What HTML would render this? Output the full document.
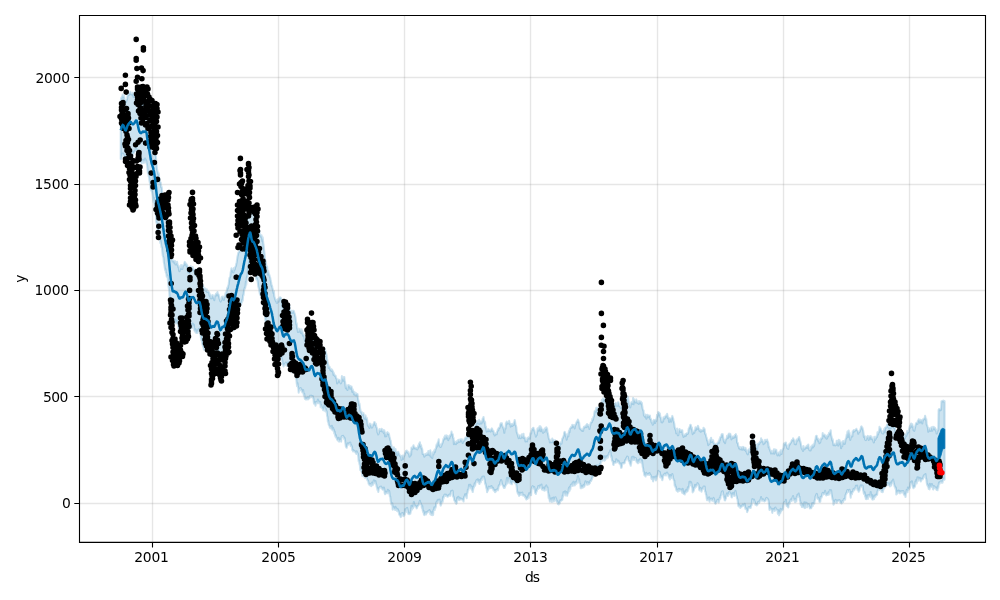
<!DOCTYPE html>
<html lang="en"><head><meta charset="utf-8"><title>Forecast plot</title>
<style>html,body{margin:0;padding:0;background:#fff}body{width:1000px;height:600px;overflow:hidden}svg{display:block}</style>
</head><body>
<svg width="1000" height="600" viewBox="0 0 1000 600">
<rect width="1000" height="600" fill="#fff"/>
<defs><clipPath id="ax"><rect x="79.5" y="15.25" width="905.75" height="527.0"/></clipPath></defs>
<g clip-path="url(#ax)">
<path d="M120.7 102.4L121.1 98L121.5 98.6L121.9 96.6L122.3 97.5L122.7 94.5L123.1 96.8L123.5 97L123.9 95.5L124.3 97.7L124.7 100.4L125.1 101.2L125.5 100.4L125.9 102.3L126.3 100.8L126.7 100.2L127.1 98.7L127.5 95.9L127.9 95.1L128.3 94.5L128.7 95.2L129.1 93.5L129.5 93.5L129.9 93.5L130.3 91.7L130.7 94.2L131.1 94.3L131.5 94L131.9 94.4L132.3 94.8L132.7 92.9L133.1 94.7L133.5 96.9L133.9 93.4L134.3 94.7L134.7 93.4L135.1 93.4L135.5 91.8L135.9 93.6L136.3 92.9L136.7 90.9L137.1 91.9L137.5 94.6L137.9 96.4L138.3 99.2L138.7 99.9L139.1 103.2L139.5 104.2L139.9 104.9L140.3 106.3L140.7 102.7L141.1 106.4L141.5 103.1L141.9 105.1L142.3 103.2L142.7 103.4L143.1 103.7L143.5 100.8L143.9 104.1L144.3 101.3L144.7 105.8L145.1 102.9L145.5 101.9L145.9 103.3L146.3 101.4L146.7 105.7L147.1 109.9L147.5 111.7L147.9 116.3L148.3 114.3L148.7 120.5L149.1 121.1L149.5 123.3L149.9 124.9L150.3 125.9L150.7 128.4L151.1 130L151.5 133L151.9 133.2L152.3 134.8L152.7 136.8L153.1 141.3L153.5 140.1L153.9 141.8L154.3 143.8L154.7 146.4L155.1 151.6L155.5 153L155.9 156.4L156.3 161.3L156.7 165.8L157.1 169.8L157.5 171.2L157.9 172.5L158.3 174.6L158.7 173.2L159.1 177.6L159.5 178.9L159.9 181.1L160.3 182.4L160.7 182.5L161.1 187.2L161.5 186.5L161.9 188.5L162.3 193.9L162.7 196.7L163.1 197L163.5 201.8L163.9 205.5L164.3 207L164.7 207.9L165.1 208.9L165.5 212.8L165.9 215.5L166.3 215.4L166.7 219.2L167.1 220.7L167.5 221L167.9 224.6L168.3 224.8L168.7 229.5L169.1 231.7L169.5 237.3L169.9 243.2L170.3 245.9L170.7 248.8L171.1 254.6L171.5 257.5L171.9 256.4L172.3 259.7L172.7 261.5L173.1 260.8L173.5 261.2L173.9 260.7L174.3 262.9L174.7 261.3L175.1 261.1L175.5 264.5L175.9 263.8L176.3 262.4L176.7 264.1L177.1 261.8L177.5 265.2L177.9 265.1L178.3 267.2L178.7 266.1L179.1 270.3L179.5 271.2L179.9 268.9L180.3 268L180.7 268.6L181.1 265.1L181.5 268.9L181.9 268.1L182.3 269L182.7 266.2L183.1 265.2L183.5 265.4L183.9 265.3L184.3 263.4L184.7 261.9L185.1 262.3L185.5 264.4L185.9 263.5L186.3 264L186.7 266.3L187.1 265L187.5 266.4L187.9 269.3L188.3 272.3L188.7 272.2L189.1 270.2L189.5 272.8L189.9 272.1L190.3 269.3L190.7 266.3L191.1 271.2L191.5 268.8L191.9 270.2L192.3 269.8L192.7 267.1L193.1 269.2L193.5 269.2L193.9 269.5L194.3 271.8L194.7 271.2L195.1 273.2L195.5 274.6L195.9 269.4L196.3 275.1L196.7 275.6L197.1 271.7L197.5 274.1L197.9 272.2L198.3 274.1L198.7 272.2L199.1 275L199.5 273.6L199.9 272L200.3 274.8L200.7 276.7L201.1 279.2L201.5 281.1L201.9 284.9L202.3 285.6L202.7 287.6L203.1 285.5L203.5 289.6L203.9 289.9L204.3 288.5L204.7 290.1L205.1 288.5L205.5 290.8L205.9 290.9L206.3 290.8L206.7 289.2L207.1 292.2L207.5 291.7L207.9 291.6L208.3 291.4L208.7 292.3L209.1 292.5L209.5 295L209.9 296L210.3 294.5L210.7 298.3L211.1 298L211.5 298.3L211.9 295.7L212.3 296.6L212.7 295L213.1 296.2L213.5 298.5L213.9 296.5L214.3 300.1L214.7 296.5L215.1 295.4L215.5 295.7L215.9 293.9L216.3 294.5L216.7 293L217.1 295.5L217.5 292.1L217.9 294.2L218.3 294.1L218.7 294.9L219.1 296.7L219.5 298.7L219.9 299.4L220.3 300.9L220.7 301.6L221.1 300.1L221.5 300.1L221.9 296.8L222.3 298.1L222.7 296.5L223.1 297.5L223.5 298.4L223.9 300L224.3 296.6L224.7 297.2L225.1 296.4L225.5 293.1L225.9 295.5L226.3 292L226.7 291.1L227.1 288.6L227.5 287.3L227.9 288.5L228.3 285.5L228.7 284.6L229.1 280.4L229.5 277.9L229.9 277.1L230.3 276.6L230.7 272.3L231.1 270.9L231.5 268.2L231.9 270.2L232.3 270L232.7 270.3L233.1 272.4L233.5 272.1L233.9 268.1L234.3 270L234.7 269.7L235.1 267.5L235.5 266.6L235.9 266L236.3 263.7L236.7 262.2L237.1 259.4L237.5 256.6L237.9 255.1L238.3 252.9L238.7 252.3L239.1 252.2L239.5 250.5L239.9 248.2L240.3 244.7L240.7 244.3L241.1 245.1L241.5 243.3L241.9 243.5L242.3 240.6L242.7 239.9L243.1 241.2L243.5 235.9L243.9 234L244.3 232.3L244.7 231.8L245.1 230.6L245.5 229.2L245.9 225.7L246.3 221.4L246.7 221.3L247.1 216.3L247.5 216.4L247.9 211.6L248.3 209L248.7 207.3L249.1 205.3L249.5 204.8L249.9 202.2L250.3 203.4L250.7 206.4L251.1 206.2L251.5 209.1L251.9 211.7L252.3 212.3L252.7 212.8L253.1 213.2L253.5 213.1L253.9 214.6L254.3 214.3L254.7 213.3L255.1 217L255.5 217.7L255.9 217.3L256.3 221.1L256.7 219.6L257.1 224.2L257.5 224.2L257.9 229.5L258.3 228.7L258.7 229.7L259.1 232.2L259.5 230.9L259.9 235.6L260.3 235.2L260.7 235.1L261.1 236.9L261.5 235.2L261.9 237.5L262.3 241.1L262.7 237.4L263.1 241.3L263.5 245L263.9 247.5L264.3 251.4L264.7 255.5L265.1 259.6L265.5 261.8L265.9 261.3L266.3 266.4L266.7 266.2L267.1 266.6L267.5 271.4L267.9 274.6L268.3 270.9L268.7 273.5L269.1 274.4L269.5 275.6L269.9 276.9L270.3 278.1L270.7 280.8L271.1 282.2L271.5 285.6L271.9 285.4L272.3 287.3L272.7 288.9L273.1 290.8L273.5 293.1L273.9 291L274.3 296.4L274.7 297.4L275.1 299.2L275.5 299.8L275.9 301.2L276.3 300.6L276.7 302.7L277.1 302.9L277.5 299.3L277.9 301.7L278.3 299.6L278.7 301.7L279.1 299.5L279.5 297.6L279.9 297.9L280.3 297.4L280.7 297.8L281.1 297.9L281.5 300.2L281.9 301.8L282.3 303.8L282.7 307.3L283.1 307L283.5 307.6L283.9 306.8L284.3 306.3L284.7 305.4L285.1 303.4L285.5 306.7L285.9 303.8L286.3 305.6L286.7 304.5L287.1 305.4L287.5 303.7L287.9 308.4L288.3 308L288.7 307.3L289.1 307.4L289.5 305.8L289.9 311.4L290.3 312.2L290.7 310.6L291.1 310.8L291.5 312L291.9 313L292.3 310.9L292.7 312.8L293.1 311.6L293.5 310.8L293.9 311.2L294.3 312.6L294.7 313.8L295.1 315.5L295.5 317.2L295.9 320.5L296.3 324.5L296.7 323.3L297.1 328.6L297.5 327.8L297.9 332L298.3 331.5L298.7 331.4L299.1 329.4L299.5 328.9L299.9 331.7L300.3 330.1L300.7 330.6L301.1 333L301.5 329.4L301.9 333.3L302.3 331.1L302.7 333.9L303.1 335.8L303.5 335.1L303.9 334.5L304.3 336.9L304.7 339.7L305.1 338.6L305.5 341.2L305.9 340.9L306.3 340.9L306.7 339.3L307.1 340.9L307.5 338.9L307.9 341.7L308.3 340.1L308.7 340.2L309.1 342.2L309.5 340.9L309.9 339.5L310.3 337.4L310.7 336.5L311.1 337.3L311.5 335.2L311.9 334L312.3 338.1L312.7 338.6L313.1 339L313.5 344.4L313.9 342.6L314.3 345.3L314.7 346.2L315.1 345.7L315.5 344.4L315.9 344.1L316.3 347L316.7 343.5L317.1 344.4L317.5 344L317.9 345.5L318.3 345L318.7 342.7L319.1 346.4L319.5 345.2L319.9 346.1L320.3 344.9L320.7 344.9L321.1 349.9L321.5 346.4L321.9 349.4L322.3 350.4L322.7 352.4L323.1 351.9L323.5 352.3L323.9 352.3L324.3 351.6L324.7 348.6L325.1 350.7L325.5 350.9L325.9 352.2L326.3 354.2L326.7 355.3L327.1 358.7L327.5 361.5L327.9 363.8L328.3 364.6L328.7 368L329.1 366.5L329.5 366.7L329.9 368.4L330.3 370.1L330.7 368.7L331.1 370.5L331.5 370.9L331.9 369.6L332.3 370.1L332.7 371.7L333.1 371.6L333.5 375L333.9 373.1L334.3 375.1L334.7 375.8L335.1 376.1L335.5 375.5L335.9 377.4L336.3 378.6L336.7 378.5L337.1 383.5L337.5 381.1L337.9 382.5L338.3 380.5L338.7 379.7L339.1 380.6L339.5 380.2L339.9 381.5L340.3 382.6L340.7 383.4L341.1 382.8L341.5 381.7L341.9 376.1L342.3 378.8L342.7 379.8L343.1 377L343.5 380.8L343.9 378.8L344.3 377L344.7 381L345.1 382L345.5 385.9L345.9 388.2L346.3 387.5L346.7 385.6L347.1 389.3L347.5 389.9L347.9 387.1L348.3 385.1L348.7 385.7L349.1 386.9L349.5 385.5L349.9 386.2L350.3 388.8L350.7 386.4L351.1 386.8L351.5 386.5L351.9 388.4L352.3 392L352.7 389.4L353.1 390.8L353.5 391.6L353.9 394.1L354.3 394.6L354.7 392.2L355.1 394L355.5 394.6L355.9 395.5L356.3 393.4L356.7 394.4L357.1 394.6L357.5 394L357.9 397.7L358.3 400.4L358.7 401.1L359.1 405.1L359.5 403.6L359.9 406.9L360.3 409.8L360.7 411.4L361.1 412.4L361.5 411.6L361.9 413.3L362.3 414.7L362.7 414.8L363.1 414.1L363.5 413.2L363.9 415L364.3 418.6L364.7 417.6L365.1 416.9L365.5 415.4L365.9 419.3L366.3 419L366.7 417.7L367.1 419.3L367.5 423.2L367.9 425.6L368.3 425.5L368.7 426.1L369.1 427.2L369.5 427.9L369.9 423.6L370.3 425.2L370.7 424.3L371.1 425.9L371.5 426.5L371.9 427.6L372.3 427.1L372.7 426L373.1 424.7L373.5 424.1L373.9 423.2L374.3 422.1L374.7 422.3L375.1 424.9L375.5 424.9L375.9 423.8L376.3 427L376.7 427.4L377.1 429.3L377.5 432.7L377.9 432.6L378.3 434.4L378.7 433.6L379.1 431.8L379.5 429.1L379.9 430.9L380.3 430L380.7 431L381.1 431L381.5 428.9L381.9 429.2L382.3 431.5L382.7 431.2L383.1 429.9L383.5 431.6L383.9 433.3L384.3 430.2L384.7 432.6L385.1 436.4L385.5 432.9L385.9 434.3L386.3 436.2L386.7 434L387.1 433.3L387.5 432.2L387.9 434L388.3 434L388.7 433.3L389.1 434.8L389.5 437.2L389.9 438L390.3 440.3L390.7 440.7L391.1 444.1L391.5 445.4L391.9 449.2L392.3 448L392.7 449L393.1 447.6L393.5 451.4L393.9 447.2L394.3 449.1L394.7 451.7L395.1 451L395.5 449L395.9 451.7L396.3 452.1L396.7 451.7L397.1 455.4L397.5 452.5L397.9 451.9L398.3 451.8L398.7 453.6L399.1 453.7L399.5 455.3L399.9 455.3L400.3 456.4L400.7 456.6L401.1 455.9L401.5 460L401.9 458.8L402.3 456.4L402.7 455.5L403.1 458.9L403.5 457.3L403.9 456.1L404.3 455.8L404.7 454.8L405.1 453.1L405.5 452.5L405.9 451.2L406.3 451.8L406.7 450.6L407.1 451.3L407.5 452.8L407.9 451.8L408.3 453.1L408.7 453.8L409.1 454L409.5 456.7L409.9 454.8L410.3 455.8L410.7 451.7L411.1 454.6L411.5 447.6L411.9 448L412.3 448.3L412.7 448.9L413.1 446.5L413.5 445.3L413.9 447.5L414.3 447.2L414.7 447.5L415.1 448.7L415.5 448.2L415.9 447.9L416.3 448.5L416.7 448.4L417.1 449.5L417.5 449.1L417.9 447.3L418.3 445.4L418.7 447.4L419.1 443.6L419.5 444.8L419.9 442.2L420.3 445.6L420.7 445.9L421.1 445.2L421.5 448.6L421.9 448L422.3 449.6L422.7 454.1L423.1 454.2L423.5 453.9L423.9 454.1L424.3 456.7L424.7 455.6L425.1 454.9L425.5 455.4L425.9 453.7L426.3 454.7L426.7 454.9L427.1 453.1L427.5 453.7L427.9 454.7L428.3 451L428.7 454.6L429.1 454.2L429.5 455.2L429.9 451.8L430.3 450.3L430.7 456.6L431.1 454.2L431.5 456.5L431.9 456.8L432.3 458.1L432.7 452.4L433.1 454.6L433.5 454.3L433.9 452.3L434.3 450.4L434.7 452.3L435.1 451.3L435.5 448.7L435.9 448.9L436.3 446.2L436.7 444.3L437.1 446.6L437.5 443.5L437.9 441.9L438.3 441.7L438.7 439.3L439.1 445.4L439.5 443.7L439.9 445.7L440.3 447L440.7 446.8L441.1 446.5L441.5 445L441.9 444L442.3 443.2L442.7 442.3L443.1 440.5L443.5 438.8L443.9 439.6L444.3 437L444.7 438.3L445.1 435.6L445.5 437.7L445.9 438.7L446.3 436.8L446.7 435.4L447.1 437.9L447.5 437.7L447.9 436.2L448.3 440.2L448.7 437.8L449.1 437L449.5 438.2L449.9 435.3L450.3 436.3L450.7 434.7L451.1 434.3L451.5 431.6L451.9 433.7L452.3 434.3L452.7 434.1L453.1 438L453.5 437.9L453.9 444.1L454.3 440.9L454.7 441.7L455.1 443.7L455.5 442.6L455.9 444.2L456.3 441.9L456.7 442.4L457.1 441L457.5 442.9L457.9 442.1L458.3 439.8L458.7 441.4L459.1 441.8L459.5 440.9L459.9 441.7L460.3 439.3L460.7 439.9L461.1 439.4L461.5 441.2L461.9 439.3L462.3 440.9L462.7 443L463.1 440.8L463.5 441.3L463.9 440.8L464.3 440.5L464.7 438.6L465.1 438.7L465.5 437.5L465.9 437.4L466.3 438.6L466.7 437L467.1 437.3L467.5 432.7L467.9 431.6L468.3 431.2L468.7 431.4L469.1 428.9L469.5 428L469.9 426.9L470.3 424.3L470.7 428.5L471.1 430.5L471.5 430.7L471.9 433.5L472.3 431.6L472.7 433L473.1 433.3L473.5 430.7L473.9 428.9L474.3 426.3L474.7 427.7L475.1 425.9L475.5 424.2L475.9 425.8L476.3 423.7L476.7 422.3L477.1 423.2L477.5 421L477.9 423.2L478.3 423.4L478.7 422.8L479.1 419.9L479.5 423.9L479.9 423.1L480.3 423.3L480.7 421.4L481.1 421.3L481.5 423.5L481.9 421.1L482.3 421.9L482.7 418.5L483.1 418.7L483.5 417L483.9 419.8L484.3 420.8L484.7 423.2L485.1 421.9L485.5 427.6L485.9 426.4L486.3 429.4L486.7 431.6L487.1 430L487.5 431.2L487.9 429.7L488.3 429.1L488.7 431.2L489.1 430L489.5 430.9L489.9 429.8L490.3 430.2L490.7 431.6L491.1 429.6L491.5 429.8L491.9 428.4L492.3 429.4L492.7 431.1L493.1 430.7L493.5 431.1L493.9 434.1L494.3 433.6L494.7 435.5L495.1 433.2L495.5 434.7L495.9 433.5L496.3 434L496.7 434.2L497.1 431.6L497.5 431.1L497.9 429.2L498.3 430.2L498.7 428L499.1 427.7L499.5 428L499.9 426.7L500.3 424.6L500.7 423.3L501.1 424.2L501.5 423.7L501.9 423.2L502.3 425.8L502.7 427L503.1 427L503.5 428.8L503.9 428.5L504.3 432.8L504.7 428.6L505.1 428L505.5 428.7L505.9 423L506.3 424.7L506.7 421.5L507.1 422.4L507.5 422.6L507.9 423.5L508.3 423.2L508.7 423.3L509.1 420.8L509.5 423L509.9 424.3L510.3 423.6L510.7 426.6L511.1 424L511.5 425L511.9 425.7L512.3 426L512.7 423.8L513.1 424.6L513.5 425L513.9 423.3L514.3 422.2L514.7 420L515.1 421.7L515.5 425L515.9 425.4L516.3 427.2L516.7 432L517.1 432.9L517.5 434.2L517.9 435.4L518.3 436.9L518.7 438.2L519.1 435.2L519.5 435.6L519.9 437.8L520.3 437.8L520.7 438.2L521.1 435.4L521.5 437.5L521.9 434.4L522.3 436.2L522.7 437.3L523.1 436.5L523.5 433.7L523.9 438.2L524.3 436.8L524.7 437.6L525.1 438.3L525.5 441.4L525.9 439.6L526.3 441.2L526.7 440.4L527.1 441.5L527.5 437.9L527.9 438.9L528.3 437.9L528.7 438.3L529.1 437.3L529.5 436.7L529.9 438.8L530.3 434.3L530.7 432.7L531.1 433.5L531.5 430.8L531.9 429.8L532.3 428.7L532.7 428.7L533.1 427.8L533.5 427.8L533.9 430.4L534.3 429.9L534.7 431.6L535.1 433.9L535.5 434L535.9 436.7L536.3 434.2L536.7 435L537.1 432.3L537.5 428.6L537.9 430.7L538.3 428.1L538.7 430.8L539.1 429.2L539.5 426.4L539.9 429.4L540.3 426.3L540.7 431.2L541.1 427.2L541.5 429.1L541.9 429.3L542.3 429.4L542.7 432L543.1 432.8L543.5 431.8L543.9 429.6L544.3 431.6L544.7 431.7L545.1 428.2L545.5 429.3L545.9 429.5L546.3 427.2L546.7 429.2L547.1 428.5L547.5 432.4L547.9 433.3L548.3 435.5L548.7 437.7L549.1 439.2L549.5 439.2L549.9 442.4L550.3 441.7L550.7 440.5L551.1 442.3L551.5 441.7L551.9 441.8L552.3 438.5L552.7 442.1L553.1 440.9L553.5 440L553.9 441.6L554.3 441.8L554.7 441.2L555.1 440.3L555.5 441.9L555.9 441.9L556.3 442L556.7 444.4L557.1 441.9L557.5 444.8L557.9 444L558.3 443.7L558.7 444.9L559.1 444.7L559.5 446.6L559.9 444L560.3 442.9L560.7 442.4L561.1 443.2L561.5 443.7L561.9 441L562.3 438.6L562.7 438.6L563.1 437.1L563.5 436.6L563.9 434.7L564.3 432.3L564.7 431.8L565.1 433L565.5 433.9L565.9 436.1L566.3 437.2L566.7 439.6L567.1 436.4L567.5 434.4L567.9 436.2L568.3 436.4L568.7 432.8L569.1 430.5L569.5 432.3L569.9 428.5L570.3 428.4L570.7 427.8L571.1 426.9L571.5 426.5L571.9 427.7L572.3 424.7L572.7 425.3L573.1 426.8L573.5 425.3L573.9 426.2L574.3 425.6L574.7 428.4L575.1 425.9L575.5 424.5L575.9 424.4L576.3 422.8L576.7 422.1L577.1 421.1L577.5 422.2L577.9 419.6L578.3 420.5L578.7 421.7L579.1 422.4L579.5 425.8L579.9 428.6L580.3 428.2L580.7 429L581.1 429.6L581.5 430.3L581.9 429.7L582.3 430.8L582.7 429.2L583.1 430.9L583.5 428.5L583.9 426.9L584.3 427.7L584.7 426.7L585.1 426.5L585.5 425.9L585.9 427.2L586.3 427L586.7 424.4L587.1 424L587.5 425.6L587.9 426.5L588.3 426.1L588.7 425.2L589.1 427.1L589.5 428.9L589.9 426.4L590.3 425L590.7 422.9L591.1 422.3L591.5 421.9L591.9 422.3L592.3 418.8L592.7 420.4L593.1 419.1L593.5 416.7L593.9 416.6L594.3 413.5L594.7 411.1L595.1 410.9L595.5 411.6L595.9 409.7L596.3 407.7L596.7 410.3L597.1 407.9L597.5 413L597.9 412.2L598.3 411.1L598.7 412.5L599.1 410.7L599.5 406.6L599.9 406.9L600.3 404.6L600.7 406.1L601.1 405.5L601.5 404.9L601.9 399.8L602.3 402.9L602.7 402.3L603.1 398.4L603.5 399.9L603.9 398.7L604.3 400.3L604.7 399L605.1 400L605.5 400.3L605.9 402.7L606.3 402L606.7 399.8L607.1 399.7L607.5 399.1L607.9 397.6L608.3 398L608.7 395.3L609.1 397.6L609.5 396.1L609.9 395L610.3 394.4L610.7 396L611.1 399.8L611.5 398.8L611.9 402.7L612.3 404.5L612.7 403.3L613.1 404.7L613.5 404.1L613.9 404L614.3 404.7L614.7 407.1L615.1 404.4L615.5 402.9L615.9 403.3L616.3 403.9L616.7 405.7L617.1 405.3L617.5 405.8L617.9 402.5L618.3 402.3L618.7 403.5L619.1 406.2L619.5 405.6L619.9 406.1L620.3 406.3L620.7 408L621.1 407.5L621.5 407.3L621.9 406L622.3 407.4L622.7 406.9L623.1 408.4L623.5 404.9L623.9 407.6L624.3 405.4L624.7 406.2L625.1 405.3L625.5 404L625.9 399.5L626.3 398.6L626.7 397.4L627.1 399.4L627.5 401L627.9 396.7L628.3 399.3L628.7 401.7L629.1 404.2L629.5 404.9L629.9 404.7L630.3 407.4L630.7 405.3L631.1 403.1L631.5 402.1L631.9 403.6L632.3 402.4L632.7 404L633.1 398L633.5 404.3L633.9 399L634.3 400.6L634.7 400.4L635.1 401.7L635.5 402.4L635.9 400.9L636.3 399.4L636.7 402.3L637.1 402.7L637.5 403.2L637.9 401.5L638.3 403L638.7 403.9L639.1 401L639.5 403.4L639.9 401.6L640.3 402.9L640.7 401.5L641.1 402L641.5 404.4L641.9 403.1L642.3 406.8L642.7 408.7L643.1 410.2L643.5 410.4L643.9 414.9L644.3 415.9L644.7 415.8L645.1 416.9L645.5 414.6L645.9 415.9L646.3 418.7L646.7 415L647.1 417.6L647.5 414.9L647.9 415.8L648.3 415.3L648.7 417.2L649.1 416.1L649.5 415.9L649.9 415.5L650.3 419.2L650.7 418.8L651.1 419.4L651.5 422L651.9 422.7L652.3 421.6L652.7 424.7L653.1 424.3L653.5 421.4L653.9 419.9L654.3 420.5L654.7 420.3L655.1 423L655.5 420.2L655.9 419.6L656.3 421.1L656.7 418.5L657.1 414.7L657.5 416.9L657.9 414.8L658.3 412.1L658.7 412.8L659.1 412.6L659.5 415.2L659.9 413.6L660.3 417.1L660.7 417.3L661.1 419.1L661.5 422L661.9 420.6L662.3 422.4L662.7 419.8L663.1 421.4L663.5 417.2L663.9 418.6L664.3 417.5L664.7 418.6L665.1 416.5L665.5 416.2L665.9 416.2L666.3 415.1L666.7 416.7L667.1 413.8L667.5 415.7L667.9 418.2L668.3 417.4L668.7 417.9L669.1 422L669.5 418.3L669.9 418.7L670.3 418.5L670.7 419.1L671.1 421.7L671.5 418.3L671.9 417.6L672.3 415.9L672.7 417.6L673.1 418.3L673.5 420.4L673.9 421.9L674.3 423.7L674.7 427.2L675.1 428.3L675.5 429.8L675.9 429.5L676.3 433.3L676.7 432.8L677.1 428.5L677.5 433.4L677.9 435.3L678.3 435L678.7 432.1L679.1 430.6L679.5 429L679.9 431.1L680.3 430.3L680.7 431.9L681.1 432L681.5 430.2L681.9 430.4L682.3 430.3L682.7 434.5L683.1 434.9L683.5 436.9L683.9 434.7L684.3 435.4L684.7 435.3L685.1 436.1L685.5 434L685.9 435.8L686.3 434L686.7 433.3L687.1 433.5L687.5 434L687.9 433.6L688.3 432L688.7 428.8L689.1 428.4L689.5 427.2L689.9 426.6L690.3 424.7L690.7 424.7L691.1 426.2L691.5 429.3L691.9 427.5L692.3 431.5L692.7 434.1L693.1 432.6L693.5 432L693.9 431.6L694.3 432.8L694.7 430.1L695.1 430L695.5 427.2L695.9 430.1L696.3 427.6L696.7 427.4L697.1 428.4L697.5 428.8L697.9 425.8L698.3 426.7L698.7 428.1L699.1 428.9L699.5 430.8L699.9 430.2L700.3 429.7L700.7 431.8L701.1 430.8L701.5 430.2L701.9 430.5L702.3 430.2L702.7 430.2L703.1 430.8L703.5 427.9L703.9 429.7L704.3 428.6L704.7 429.5L705.1 434L705.5 433.6L705.9 435.2L706.3 436.8L706.7 438L707.1 440.5L707.5 439.9L707.9 442.9L708.3 445.1L708.7 442.4L709.1 443.6L709.5 443.9L709.9 442.4L710.3 439.3L710.7 440.4L711.1 437.7L711.5 442L711.9 441.8L712.3 440.6L712.7 441.4L713.1 440.2L713.5 442.9L713.9 443.6L714.3 444L714.7 443.5L715.1 444.9L715.5 445L715.9 444.7L716.3 444.3L716.7 445.8L717.1 443.3L717.5 443.8L717.9 442.8L718.3 442.4L718.7 441L719.1 442.9L719.5 439L719.9 440.3L720.3 437L720.7 437.2L721.1 437.2L721.5 434.8L721.9 434.1L722.3 434.8L722.7 434.2L723.1 436.8L723.5 439.1L723.9 441L724.3 442.1L724.7 440.2L725.1 443.1L725.5 440.1L725.9 439.4L726.3 439.3L726.7 438L727.1 435.7L727.5 437.1L727.9 438L728.3 435.6L728.7 434L729.1 433.6L729.5 436.7L729.9 434L730.3 433.9L730.7 436L731.1 436.2L731.5 439.4L731.9 437.3L732.3 437.9L732.7 436.5L733.1 436.7L733.5 438L733.9 436.3L734.3 436L734.7 437.3L735.1 434.7L735.5 435.1L735.9 434.2L736.3 437L736.7 436L737.1 442.7L737.5 442.5L737.9 443.5L738.3 446L738.7 446.4L739.1 448.4L739.5 447.8L739.9 447L740.3 449.3L740.7 449.1L741.1 449.2L741.5 447.5L741.9 447.3L742.3 449.8L742.7 448.3L743.1 446.9L743.5 447L743.9 449.1L744.3 449.8L744.7 448.6L745.1 449L745.5 447.9L745.9 451.2L746.3 449.5L746.7 452L747.1 453.7L747.5 452.4L747.9 454.4L748.3 450.9L748.7 449.9L749.1 449.2L749.5 451.9L749.9 450.4L750.3 450.2L750.7 447L751.1 446.9L751.5 444.4L751.9 444.7L752.3 443.9L752.7 442.4L753.1 442.6L753.5 445.8L753.9 439.6L754.3 444.8L754.7 446.7L755.1 442.4L755.5 445.7L755.9 444.9L756.3 446.7L756.7 446.6L757.1 449.1L757.5 446.1L757.9 443.9L758.3 444.5L758.7 443.3L759.1 444.2L759.5 443.1L759.9 441.8L760.3 442.2L760.7 441.8L761.1 438.2L761.5 441.1L761.9 441.4L762.3 439.9L762.7 441.6L763.1 441.9L763.5 444.2L763.9 442.8L764.3 442L764.7 443.2L765.1 439.8L765.5 441.2L765.9 441.5L766.3 440.9L766.7 440.7L767.1 439.6L767.5 441.5L767.9 441.8L768.3 443.1L768.7 447.3L769.1 446.6L769.5 448.8L769.9 449.7L770.3 451L770.7 451.7L771.1 453.5L771.5 450.8L771.9 453.1L772.3 452.3L772.7 453.4L773.1 452.8L773.5 452.1L773.9 449.2L774.3 453.7L774.7 451.1L775.1 449.4L775.5 451.3L775.9 449.8L776.3 450L776.7 453.3L777.1 453.7L777.5 455.4L777.9 453.1L778.3 454.1L778.7 453.2L779.1 452.3L779.5 455.5L779.9 454.6L780.3 454.2L780.7 450.2L781.1 453.2L781.5 454L781.9 450.8L782.3 450.7L782.7 449.5L783.1 448.6L783.5 448L783.9 443.5L784.3 443.4L784.7 444.5L785.1 444L785.5 442.7L785.9 442.6L786.3 445.5L786.7 445.1L787.1 447.9L787.5 447.4L787.9 448.6L788.3 448.9L788.7 446.5L789.1 444.7L789.5 443.8L789.9 444.5L790.3 443.1L790.7 443L791.1 442.2L791.5 441.1L791.9 440.1L792.3 439.8L792.7 440.5L793.1 438.4L793.5 439.2L793.9 440.4L794.3 440.7L794.7 443.8L795.1 444.1L795.5 443L795.9 444.3L796.3 442.4L796.7 439.5L797.1 440.7L797.5 440.6L797.9 439.2L798.3 438.4L798.7 437.7L799.1 437L799.5 438.5L799.9 440.5L800.3 441.5L800.7 443.1L801.1 445.1L801.5 447.6L801.9 449L802.3 447.4L802.7 450.2L803.1 450.9L803.5 446.1L803.9 448.9L804.3 447.9L804.7 449.3L805.1 447.5L805.5 447.5L805.9 447.2L806.3 447.3L806.7 445.9L807.1 448L807.5 446.2L807.9 445L808.3 444.6L808.7 447.6L809.1 449.1L809.5 450.1L809.9 450.4L810.3 448.8L810.7 450.4L811.1 446.6L811.5 448.7L811.9 446.3L812.3 445.3L812.7 446.6L813.1 447.4L813.5 444.3L813.9 446.2L814.3 444.7L814.7 442.4L815.1 440.3L815.5 439.4L815.9 436.5L816.3 435.7L816.7 435.7L817.1 439.5L817.5 438.1L817.9 438.6L818.3 441.3L818.7 439.4L819.1 440.9L819.5 443.3L819.9 441.8L820.3 442.2L820.7 439.6L821.1 438.2L821.5 439L821.9 438L822.3 438.1L822.7 433.1L823.1 436L823.5 434.5L823.9 435.3L824.3 435.6L824.7 434.6L825.1 436.7L825.5 437.6L825.9 435.9L826.3 436.3L826.7 438.8L827.1 438.1L827.5 435.4L827.9 436.6L828.3 436.1L828.7 434.7L829.1 432.8L829.5 432.9L829.9 434.2L830.3 432L830.7 430.2L831.1 435L831.5 436.6L831.9 438.2L832.3 440.6L832.7 439.2L833.1 442.4L833.5 445.2L833.9 443.5L834.3 444.7L834.7 444.1L835.1 445.4L835.5 445.1L835.9 444.5L836.3 444.7L836.7 440.7L837.1 444.3L837.5 441.6L837.9 444.2L838.3 445.6L838.7 439.8L839.1 443.9L839.5 440.2L839.9 443.5L840.3 441.9L840.7 442.4L841.1 448.2L841.5 443.8L841.9 446L842.3 446.1L842.7 441.3L843.1 442.9L843.5 441L843.9 443.8L844.3 441.2L844.7 443.9L845.1 442.4L845.5 439.5L845.9 438.6L846.3 437.7L846.7 434.8L847.1 434.4L847.5 431.6L847.9 437.1L848.3 433.8L848.7 430.5L849.1 434.1L849.5 432.5L849.9 437.1L850.3 439.9L850.7 437.7L851.1 436.1L851.5 436.7L851.9 435.4L852.3 436.5L852.7 431.3L853.1 432.2L853.5 430.5L853.9 430.1L854.3 431.4L854.7 430.7L855.1 430.5L855.5 429.7L855.9 429.8L856.3 428.8L856.7 429.7L857.1 430.4L857.5 430.6L857.9 431.4L858.3 433.7L858.7 432.1L859.1 431.8L859.5 432L859.9 431.3L860.3 429.7L860.7 428.8L861.1 426.6L861.5 426.4L861.9 428.5L862.3 427.5L862.7 428.9L863.1 430.4L863.5 432.8L863.9 436.9L864.3 435.5L864.7 436.1L865.1 439.4L865.5 439.9L865.9 440.1L866.3 439.3L866.7 436.9L867.1 438.1L867.5 437.5L867.9 435.9L868.3 436.9L868.7 439.9L869.1 438.6L869.5 436.7L869.9 436.4L870.3 436.9L870.7 436.1L871.1 439.2L871.5 436.8L871.9 438.5L872.3 439.1L872.7 438.5L873.1 440.3L873.5 441.7L873.9 442.4L874.3 436.7L874.7 438.7L875.1 439.9L875.5 437.3L875.9 438.7L876.3 436.9L876.7 435.9L877.1 437L877.5 432.2L877.9 434.6L878.3 433.5L878.7 431.4L879.1 432.1L879.5 426.9L879.9 428.9L880.3 428L880.7 428.6L881.1 430.6L881.5 430.6L881.9 432.5L882.3 433L882.7 433.4L883.1 433.6L883.5 431.2L883.9 430.5L884.3 428.9L884.7 432.1L885.1 427.8L885.5 427.6L885.9 427.1L886.3 427.7L886.7 426.3L887.1 424.7L887.5 424.6L887.9 425.8L888.3 427.4L888.7 426.9L889.1 428.5L889.5 426.3L889.9 428.4L890.3 427.3L890.7 428.1L891.1 425.2L891.5 426.7L891.9 423.5L892.3 426.2L892.7 423.9L893.1 423.8L893.5 423.2L893.9 422.6L894.3 428.1L894.7 426.8L895.1 429.4L895.5 432.2L895.9 434.1L896.3 435L896.7 435.5L897.1 433.8L897.5 434.9L897.9 435.9L898.3 435.9L898.7 434.4L899.1 436.7L899.5 435.3L899.9 431.7L900.3 435L900.7 430.6L901.1 434.1L901.5 432.4L901.9 431.7L902.3 431.9L902.7 432.7L903.1 432.2L903.5 434.7L903.9 434.6L904.3 437.1L904.7 438.4L905.1 437.7L905.5 434.9L905.9 434.2L906.3 435.9L906.7 434.2L907.1 431L907.5 433.6L907.9 432.1L908.3 431.9L908.7 431.9L909.1 429.1L909.5 427.5L909.9 425.9L910.3 427.7L910.7 424.6L911.1 423.5L911.5 426.6L911.9 425.1L912.3 424.3L912.7 427L913.1 426.6L913.5 430.2L913.9 429L914.3 430.9L914.7 428.7L915.1 427.3L915.5 425.2L915.9 423.9L916.3 423L916.7 422.8L917.1 423.6L917.5 423.8L917.9 420.7L918.3 421.1L918.7 419.2L919.1 420.6L919.5 419.7L919.9 422.6L920.3 419.7L920.7 421.4L921.1 422.1L921.5 420.4L921.9 420.1L922.3 423.5L922.7 419.6L923.1 420.4L923.5 419L923.9 419.2L924.3 418.4L924.7 418.1L925.1 415.8L925.5 417.8L925.9 419.9L926.3 419.2L926.7 424.6L927.1 425.2L927.5 426.5L927.9 427.7L928.3 431.8L928.7 429.6L929.1 428.2L929.5 428.7L929.9 430.7L930.3 429.9L930.7 430.8L931.1 428.2L931.5 427.3L931.9 428.8L932.3 430.7L932.7 429.1L933.1 426.8L933.5 427.9L933.9 429L934.3 427.3L934.7 429.2L935.1 427.9L935.5 430L935.9 430.7L936.3 431.3L936.7 433.5L937.1 432.7L937.5 429.4L937.9 430.7L938.3 430L938.6 409.9L939 409.1L939.4 409.2L939.7 409.8L940.1 409.4L940.4 410.3L940.8 408.4L941.1 409.7L941.5 401.4L941.8 401.4L942.2 401.6L942.5 400.9L942.9 400.8L943.2 401.5L943.6 400.6L943.9 401.7L944.3 402.1L944.6 401.2L944.6 479.6L944.3 478.9L943.9 480L943.6 479.7L943.2 478.6L942.9 480.4L942.5 482.6L942.2 481.6L941.8 481.4L941.5 482.8L941.1 481.2L940.8 481.7L940.4 481.5L940.1 482.1L939.7 482.7L939.4 483.9L939 482.6L938.6 485.2L938.3 487.9L937.9 486.3L937.5 490.3L937.1 488.7L936.7 490L936.3 488.2L935.9 487.4L935.5 487.5L935.1 488.3L934.7 487.2L934.3 486.4L933.9 486.1L933.5 487L933.1 489.5L932.7 486.1L932.3 485.8L931.9 484.1L931.5 487L931.1 486.7L930.7 486.5L930.3 487.6L929.9 483.9L929.5 489.4L929.1 487.5L928.7 488.9L928.3 485.8L927.9 486.6L927.5 484.3L927.1 484.9L926.7 482.4L926.3 478.9L925.9 478.4L925.5 474.1L925.1 475.7L924.7 474.8L924.3 475L923.9 476.9L923.5 476.1L923.1 478.5L922.7 479.1L922.3 478.9L921.9 479.6L921.5 478.7L921.1 480.7L920.7 481.4L920.3 479.3L919.9 477.9L919.5 479.4L919.1 479.6L918.7 477.6L918.3 480.7L917.9 479.3L917.5 477.2L917.1 480.2L916.7 483.4L916.3 479.9L915.9 482.7L915.5 481.4L915.1 485.8L914.7 487L914.3 487.2L913.9 486.2L913.5 488.1L913.1 487.7L912.7 486.2L912.3 483.4L911.9 481.3L911.5 483.4L911.1 483.4L910.7 482.3L910.3 483.6L909.9 488L909.5 487.3L909.1 489.1L908.7 489.1L908.3 490L907.9 487.5L907.5 492.1L907.1 491.1L906.7 489.9L906.3 492.7L905.9 493.5L905.5 497L905.1 494.5L904.7 495.4L904.3 494L903.9 494.4L903.5 491.5L903.1 491.1L902.7 491.4L902.3 491.1L901.9 492.6L901.5 491.3L901.1 491.2L900.7 492.4L900.3 491.3L899.9 493.4L899.5 491L899.1 492.8L898.7 490.6L898.3 492.1L897.9 491.9L897.5 490.9L897.1 493.7L896.7 491.7L896.3 494.4L895.9 487.6L895.5 488.7L895.1 486.5L894.7 486.8L894.3 484.9L893.9 483.3L893.5 482.1L893.1 479.6L892.7 482.7L892.3 480.7L891.9 482.6L891.5 483.7L891.1 485.5L890.7 484.4L890.3 482.5L889.9 486.5L889.5 485.2L889.1 484.9L888.7 485L888.3 483.2L887.9 484L887.5 485.1L887.1 482.8L886.7 484.7L886.3 485.1L885.9 485.4L885.5 486.3L885.1 487.3L884.7 485.9L884.3 487.9L883.9 488.8L883.5 488.1L883.1 490.6L882.7 492.3L882.3 490.7L881.9 491L881.5 491.8L881.1 487.8L880.7 487.1L880.3 485.2L879.9 486.6L879.5 486.7L879.1 490.1L878.7 487.4L878.3 489.1L877.9 490.5L877.5 491.4L877.1 494.9L876.7 495.1L876.3 495.3L875.9 494.6L875.5 496.5L875.1 495.9L874.7 497.4L874.3 495.6L873.9 499.2L873.5 496.6L873.1 498.6L872.7 499.6L872.3 499.3L871.9 494.9L871.5 497.8L871.1 496.6L870.7 492.1L870.3 496.8L869.9 494.7L869.5 496.2L869.1 496.5L868.7 494.9L868.3 495.3L867.9 499L867.5 497.6L867.1 495.3L866.7 497.7L866.3 499.2L865.9 499.1L865.5 496.3L865.1 496.6L864.7 492.4L864.3 493.9L863.9 493.9L863.5 491.3L863.1 490.1L862.7 486.1L862.3 485.6L861.9 485.4L861.5 486.8L861.1 486.5L860.7 485.4L860.3 486.9L859.9 487.4L859.5 490.3L859.1 490.9L858.7 491.7L858.3 489.6L857.9 489.5L857.5 490L857.1 485.5L856.7 486.4L856.3 486.9L855.9 485.8L855.5 488.4L855.1 488.2L854.7 488.2L854.3 490.2L853.9 489.5L853.5 489L853.1 491.1L852.7 492L852.3 491.9L851.9 494.2L851.5 494.2L851.1 492L850.7 497.7L850.3 494.6L849.9 491.8L849.5 489.8L849.1 490.1L848.7 491.9L848.3 491.4L847.9 490L847.5 490.1L847.1 491L846.7 493.3L846.3 493L845.9 494.5L845.5 495.1L845.1 499.7L844.7 498.8L844.3 499.6L843.9 499.1L843.5 500.1L843.1 502L842.7 500.9L842.3 501L841.9 502.7L841.5 503.5L841.1 502.9L840.7 502.8L840.3 502.5L839.9 500.6L839.5 500.2L839.1 500.7L838.7 500.4L838.3 500.8L837.9 500.4L837.5 501.5L837.1 501.6L836.7 502.8L836.3 500.4L835.9 500.2L835.5 499.9L835.1 501.7L834.7 502L834.3 503.6L833.9 500.9L833.5 504.6L833.1 500.8L832.7 499.8L832.3 497.9L831.9 495.8L831.5 493.6L831.1 490.3L830.7 490.4L830.3 492.6L829.9 490L829.5 491.6L829.1 494L828.7 494.7L828.3 492.2L827.9 494.1L827.5 495L827.1 493.9L826.7 494.4L826.3 495.5L825.9 494.6L825.5 493.1L825.1 490.9L824.7 493.9L824.3 493.2L823.9 492.9L823.5 494.4L823.1 493.6L822.7 492.9L822.3 493.6L821.9 496.3L821.5 497.6L821.1 497.2L820.7 496.8L820.3 501.6L819.9 501.4L819.5 501.9L819.1 499.9L818.7 499.3L818.3 497.8L817.9 498.9L817.5 498L817.1 495.1L816.7 493.9L816.3 494.4L815.9 496.2L815.5 496.2L815.1 500L814.7 500.3L814.3 503.5L813.9 503.5L813.5 504.2L813.1 503.2L812.7 506L812.3 503.1L811.9 505L811.5 507.5L811.1 508.3L810.7 508.2L810.3 507.9L809.9 508.4L809.5 506.7L809.1 506.1L808.7 504L808.3 505.2L807.9 504.6L807.5 504.7L807.1 507.3L806.7 503L806.3 504.1L805.9 502.6L805.5 505.1L805.1 508L804.7 508.1L804.3 502.3L803.9 506.3L803.5 506.5L803.1 507.2L802.7 504.2L802.3 506.8L801.9 507L801.5 503.9L801.1 503L800.7 505L800.3 501.2L799.9 501L799.5 496.7L799.1 497.2L798.7 493.5L798.3 495.6L797.9 496.5L797.5 494.8L797.1 497.1L796.7 497L796.3 501.4L795.9 499.3L795.5 499.2L795.1 502.1L794.7 498.9L794.3 500.7L793.9 498.9L793.5 499.7L793.1 496L792.7 497.1L792.3 498.2L791.9 500L791.5 501L791.1 499.3L790.7 499.7L790.3 500.8L789.9 502.3L789.5 503.9L789.1 502.6L788.7 503.5L788.3 507.4L787.9 507.1L787.5 506.3L787.1 504.4L786.7 505.9L786.3 504.3L785.9 499.9L785.5 502.2L785.1 503.6L784.7 501.9L784.3 502.2L783.9 502.7L783.5 504.6L783.1 507.7L782.7 509.6L782.3 510L781.9 509.5L781.5 509.9L781.1 511.4L780.7 508.8L780.3 513.2L779.9 512.3L779.5 512.1L779.1 515.3L778.7 510.4L778.3 514L777.9 513.8L777.5 510L777.1 510L776.7 509.7L776.3 509.1L775.9 509.9L775.5 507.6L775.1 507.7L774.7 510.9L774.3 509.1L773.9 509.9L773.5 510.3L773.1 508.8L772.7 509.5L772.3 512.9L771.9 510.3L771.5 509.3L771.1 509.2L770.7 508.9L770.3 507.2L769.9 508.8L769.5 510L769.1 506.5L768.7 502L768.3 500L767.9 499.5L767.5 498.5L767.1 498.7L766.7 497.9L766.3 498.1L765.9 498.7L765.5 500.8L765.1 500.7L764.7 501.1L764.3 501.4L763.9 500.6L763.5 500.3L763.1 499.3L762.7 500.7L762.3 499.8L761.9 499.1L761.5 500.6L761.1 497.1L760.7 499.2L760.3 500.2L759.9 500.5L759.5 501.9L759.1 502.9L758.7 501.7L758.3 501.7L757.9 502.4L757.5 504.5L757.1 504.7L756.7 505.3L756.3 504.3L755.9 503.9L755.5 504.7L755.1 503.3L754.7 501.4L754.3 500.7L753.9 499.6L753.5 502.4L753.1 499.7L752.7 500L752.3 499.1L751.9 502.6L751.5 505.4L751.1 505.6L750.7 507.9L750.3 507L749.9 507.9L749.5 507.7L749.1 506.9L748.7 507.2L748.3 508.4L747.9 510.6L747.5 510.9L747.1 512.1L746.7 509.3L746.3 509.3L745.9 508L745.5 508.9L745.1 507.2L744.7 503.7L744.3 506L743.9 505.4L743.5 505.4L743.1 505.7L742.7 504.4L742.3 506.1L741.9 506.4L741.5 506.3L741.1 507.1L740.7 506.3L740.3 507.9L739.9 506.4L739.5 505.9L739.1 504.6L738.7 506.4L738.3 505.7L737.9 502.6L737.5 499.2L737.1 498.5L736.7 496.2L736.3 495.7L735.9 493L735.5 490.9L735.1 492.1L734.7 494.5L734.3 496L733.9 494.8L733.5 495.3L733.1 492.9L732.7 495.6L732.3 494.1L731.9 497.4L731.5 497.2L731.1 493.5L730.7 494.6L730.3 493.4L729.9 492.8L729.5 492L729.1 492L728.7 494.6L728.3 493.8L727.9 496L727.5 496L727.1 493.2L726.7 494.4L726.3 495.4L725.9 498.5L725.5 498.9L725.1 500.4L724.7 500.3L724.3 497.1L723.9 497.7L723.5 495L723.1 493.4L722.7 491.3L722.3 491.5L721.9 491.7L721.5 493.2L721.1 495.4L720.7 495.7L720.3 498.8L719.9 497.6L719.5 498.6L719.1 501.2L718.7 502.4L718.3 500L717.9 499.9L717.5 499.8L717.1 501.1L716.7 501.8L716.3 502.2L715.9 502.9L715.5 503.7L715.1 503.1L714.7 502.3L714.3 500.5L713.9 498.6L713.5 497.9L713.1 499.6L712.7 500.8L712.3 499.3L711.9 500.4L711.5 498.9L711.1 498.5L710.7 499.7L710.3 499.2L709.9 499.7L709.5 501.7L709.1 497.3L708.7 498.3L708.3 499.9L707.9 499.7L707.5 498.3L707.1 500.2L706.7 498.2L706.3 495.1L705.9 494.4L705.5 491.6L705.1 491.7L704.7 486.6L704.3 487.3L703.9 486.5L703.5 486.7L703.1 488.7L702.7 488.3L702.3 489.6L701.9 488.7L701.5 491.6L701.1 490.6L700.7 489.7L700.3 487.8L699.9 488.9L699.5 490.4L699.1 489.5L698.7 485L698.3 484.4L697.9 483.8L697.5 483.2L697.1 484.9L696.7 485L696.3 486L695.9 486.8L695.5 487.3L695.1 484.9L694.7 488.2L694.3 487.5L693.9 489.9L693.5 491.3L693.1 491.6L692.7 492.3L692.3 487.4L691.9 487L691.5 483.9L691.1 482.4L690.7 484.5L690.3 481.8L689.9 485L689.5 481.8L689.1 486.7L688.7 487.7L688.3 489.5L687.9 487.3L687.5 491.3L687.1 491.4L686.7 491.8L686.3 489.7L685.9 492L685.5 492.9L685.1 491.3L684.7 494.5L684.3 493.9L683.9 493.9L683.5 493.5L683.1 492.1L682.7 488.9L682.3 493L681.9 491.8L681.5 490.5L681.1 489.7L680.7 489.4L680.3 490L679.9 489.8L679.5 490.8L679.1 488.8L678.7 489.1L678.3 490.4L677.9 491.8L677.5 489.7L677.1 489.7L676.7 490.7L676.3 489.8L675.9 486.9L675.5 487.4L675.1 485L674.7 485.9L674.3 480.7L673.9 480.5L673.5 479.2L673.1 478L672.7 475.5L672.3 474.1L671.9 476.2L671.5 476L671.1 478.1L670.7 477.6L670.3 475.1L669.9 479.4L669.5 475.7L669.1 477.8L668.7 476.7L668.3 474.3L667.9 474.3L667.5 474.1L667.1 472.6L666.7 473.8L666.3 473.2L665.9 475.5L665.5 473.8L665.1 474.5L664.7 473.7L664.3 474.3L663.9 475.5L663.5 475L663.1 476.4L662.7 478.6L662.3 480.3L661.9 478L661.5 476.7L661.1 477.7L660.7 475L660.3 477.3L659.9 472L659.5 472.6L659.1 472.2L658.7 471.4L658.3 470.8L657.9 474.1L657.5 475L657.1 476.7L656.7 477L656.3 479.2L655.9 480.4L655.5 476.6L655.1 478.4L654.7 477.2L654.3 479.1L653.9 478.5L653.5 477.2L653.1 481.4L652.7 479L652.3 477.3L651.9 477.4L651.5 478.9L651.1 476.3L650.7 475.1L650.3 475.1L649.9 474.3L649.5 473L649.1 475L648.7 474.6L648.3 473.9L647.9 474.2L647.5 474.5L647.1 474.8L646.7 475L646.3 472.9L645.9 473.3L645.5 476.5L645.1 475.2L644.7 475.6L644.3 475L643.9 471.9L643.5 471.6L643.1 468.3L642.7 466.9L642.3 463.2L641.9 460.1L641.5 463.2L641.1 460.5L640.7 459.9L640.3 458.8L639.9 459.9L639.5 462L639.1 459.7L638.7 462.7L638.3 461.2L637.9 463.3L637.5 462.8L637.1 460.3L636.7 462.2L636.3 461.2L635.9 458.3L635.5 458L635.1 457.9L634.7 457.9L634.3 459.9L633.9 458.8L633.5 456.9L633.1 460L632.7 460.1L632.3 456.7L631.9 457.7L631.5 460.4L631.1 463.9L630.7 465.8L630.3 462.9L629.9 463.9L629.5 461.3L629.1 461L628.7 461.1L628.3 459.4L627.9 457.1L627.5 457L627.1 456.5L626.7 458.5L626.3 458.1L625.9 459.4L625.5 460.8L625.1 460.2L624.7 462.9L624.3 463.3L623.9 462.7L623.5 463.4L623.1 463.2L622.7 463.6L622.3 463.1L621.9 466.2L621.5 467.7L621.1 467.9L620.7 465.2L620.3 463.4L619.9 464.1L619.5 463.7L619.1 462.4L618.7 461.2L618.3 462.5L617.9 460.5L617.5 462.1L617.1 462L616.7 460.6L616.3 459.2L615.9 462.6L615.5 462.6L615.1 462.4L614.7 462.2L614.3 462.9L613.9 462.1L613.5 465L613.1 464.4L612.7 460.7L612.3 461.1L611.9 460.2L611.5 456L611.1 457.1L610.7 454L610.3 450.3L609.9 451.8L609.5 453.6L609.1 452.6L608.7 454.4L608.3 455.5L607.9 457.5L607.5 455.8L607.1 456.5L606.7 458.4L606.3 456.4L605.9 458.5L605.5 457.8L605.1 460.2L604.7 456.4L604.3 460.7L603.9 458.5L603.5 457.5L603.1 456.3L602.7 459.7L602.3 460.4L601.9 456.8L601.5 461.7L601.1 459.6L600.7 463L600.3 464.2L599.9 464L599.5 469L599.1 469.3L598.7 468L598.3 468.7L597.9 470.2L597.5 465.6L597.1 466.6L596.7 468.5L596.3 465.6L595.9 466.5L595.5 467.8L595.1 467L594.7 471.7L594.3 469.9L593.9 474.9L593.5 473.9L593.1 473.4L592.7 477.3L592.3 477.4L591.9 479.3L591.5 479.2L591.1 481L590.7 480.8L590.3 480.8L589.9 483.2L589.5 483.1L589.1 484.2L588.7 482.8L588.3 484.5L587.9 482L587.5 482.4L587.1 484.8L586.7 482.6L586.3 484.3L585.9 483L585.5 481.3L585.1 482.9L584.7 485.1L584.3 486.7L583.9 486L583.5 484.9L583.1 487.5L582.7 487.6L582.3 487.1L581.9 486.1L581.5 488.1L581.1 487.6L580.7 488.1L580.3 483.9L579.9 483.5L579.5 482.2L579.1 479.1L578.7 482.4L578.3 477.5L577.9 476.1L577.5 479.7L577.1 480.1L576.7 483.4L576.3 481.6L575.9 484.2L575.5 482L575.1 484.8L574.7 485.4L574.3 483L573.9 484L573.5 481.9L573.1 485.6L572.7 482.5L572.3 485.9L571.9 485.6L571.5 484.6L571.1 484.6L570.7 485.5L570.3 489.4L569.9 486.8L569.5 490.9L569.1 487.5L568.7 489.5L568.3 493L567.9 493.3L567.5 493.9L567.1 495.7L566.7 494.3L566.3 492L565.9 493.4L565.5 495.4L565.1 491.2L564.7 492.6L564.3 494.1L563.9 493.5L563.5 492.2L563.1 496.7L562.7 495.5L562.3 500L561.9 499.2L561.5 500.5L561.1 500.7L560.7 500.9L560.3 500.4L559.9 502.4L559.5 503.7L559.1 502.8L558.7 504.5L558.3 502.7L557.9 504L557.5 501.3L557.1 502.1L556.7 501.7L556.3 499.2L555.9 498.8L555.5 497.2L555.1 497.6L554.7 500.4L554.3 499.1L553.9 501.3L553.5 497.6L553.1 501.4L552.7 499.4L552.3 498L551.9 501.9L551.5 498.5L551.1 500.2L550.7 500.5L550.3 498.5L549.9 501.7L549.5 499L549.1 495.2L548.7 498.2L548.3 493.3L547.9 492.1L547.5 487.4L547.1 488.3L546.7 486.9L546.3 485.4L545.9 489.8L545.5 486.5L545.1 487.6L544.7 490.7L544.3 489.3L543.9 489L543.5 487.7L543.1 490.1L542.7 488.6L542.3 488.9L541.9 489.4L541.5 484.6L541.1 486L540.7 486.7L540.3 485.8L539.9 485.4L539.5 488.2L539.1 487.8L538.7 486.2L538.3 486L537.9 489L537.5 488.5L537.1 489.4L536.7 491.4L536.3 490.7L535.9 493.9L535.5 492.5L535.1 492.9L534.7 489.7L534.3 487.1L533.9 487.8L533.5 488.6L533.1 487L532.7 486.2L532.3 486.6L531.9 487.9L531.5 489.5L531.1 495.2L530.7 492.3L530.3 493.5L529.9 495.3L529.5 494.8L529.1 493.3L528.7 497.8L528.3 495.4L527.9 498L527.5 498.8L527.1 497.4L526.7 498.7L526.3 499.5L525.9 498.3L525.5 496.6L525.1 497.3L524.7 495.4L524.3 495.4L523.9 495.8L523.5 495.3L523.1 495L522.7 495.3L522.3 492.5L521.9 492.9L521.5 493L521.1 493.8L520.7 494.8L520.3 493L519.9 492.7L519.5 495.1L519.1 495.9L518.7 494.5L518.3 492.5L517.9 493.8L517.5 492.2L517.1 491.3L516.7 486.8L516.3 484.8L515.9 484.1L515.5 482.3L515.1 483.4L514.7 482.4L514.3 481.1L513.9 480.2L513.5 481.4L513.1 481.4L512.7 482.4L512.3 481L511.9 484.3L511.5 483.9L511.1 483.4L510.7 482.4L510.3 483.6L509.9 480.1L509.5 476.9L509.1 479.6L508.7 478.6L508.3 482.5L507.9 481.3L507.5 483.4L507.1 477.7L506.7 480L506.3 483.7L505.9 484.8L505.5 485.3L505.1 486.8L504.7 487.8L504.3 486.2L503.9 487.9L503.5 486.7L503.1 485.8L502.7 485.2L502.3 484.5L501.9 483.6L501.5 481.2L501.1 480.1L500.7 481.6L500.3 481.9L499.9 484.4L499.5 485.7L499.1 485.1L498.7 486.2L498.3 488.5L497.9 490.3L497.5 489.3L497.1 489.2L496.7 490L496.3 490.1L495.9 491.6L495.5 490.1L495.1 492.1L494.7 490.8L494.3 490.9L493.9 489.6L493.5 490.3L493.1 487.9L492.7 488.9L492.3 487.8L491.9 487.9L491.5 486.1L491.1 487.9L490.7 486.4L490.3 487.6L489.9 488.2L489.5 487.1L489.1 487L488.7 486.7L488.3 489.4L487.9 490.6L487.5 488.9L487.1 492.2L486.7 488.6L486.3 488L485.9 485.8L485.5 483.3L485.1 483.9L484.7 479.9L484.3 478.6L483.9 476.5L483.5 478L483.1 476.6L482.7 478.6L482.3 476.8L481.9 480L481.5 479.2L481.1 478.6L480.7 482.3L480.3 481.4L479.9 480.1L479.5 484L479.1 483L478.7 481.1L478.3 482.6L477.9 479.4L477.5 481.1L477.1 481.3L476.7 479.9L476.3 480.7L475.9 481.9L475.5 483.3L475.1 485.6L474.7 483.4L474.3 485.4L473.9 487.5L473.5 486.6L473.1 490.1L472.7 492L472.3 489.1L471.9 490.2L471.5 486.4L471.1 487.1L470.7 488.4L470.3 484.9L469.9 487.3L469.5 487.3L469.1 484.8L468.7 487.8L468.3 490.3L467.9 489.8L467.5 492.9L467.1 493.7L466.7 498.2L466.3 494.1L465.9 496.5L465.5 496.3L465.1 494.3L464.7 496.5L464.3 496.5L463.9 498.2L463.5 501.5L463.1 500L462.7 499.6L462.3 499.7L461.9 499.6L461.5 498.7L461.1 498.7L460.7 498.6L460.3 499.4L459.9 499.7L459.5 497.8L459.1 500.2L458.7 499.7L458.3 496.7L457.9 498.6L457.5 499.4L457.1 497.8L456.7 503.1L456.3 503.8L455.9 501.4L455.5 502.5L455.1 501.5L454.7 500.8L454.3 500.4L453.9 498L453.5 496.5L453.1 496.6L452.7 491L452.3 490.7L451.9 491.5L451.5 491.7L451.1 491.1L450.7 493.7L450.3 495.7L449.9 494.2L449.5 495.5L449.1 494.6L448.7 496L448.3 495.4L447.9 496.8L447.5 496.8L447.1 495.7L446.7 495.8L446.3 495.6L445.9 494.6L445.5 495.9L445.1 494.7L444.7 494.5L444.3 495.2L443.9 496.5L443.5 498.6L443.1 496.9L442.7 501.8L442.3 501.3L441.9 501.4L441.5 503L441.1 504.7L440.7 505.6L440.3 503.5L439.9 502.3L439.5 499.5L439.1 500.5L438.7 500.8L438.3 499.8L437.9 501.7L437.5 500.3L437.1 502.9L436.7 501.9L436.3 502.5L435.9 506.3L435.5 507.9L435.1 507.3L434.7 510L434.3 507.3L433.9 510.1L433.5 510L433.1 514.9L432.7 511.6L432.3 515.2L431.9 513.5L431.5 515L431.1 512.3L430.7 512.2L430.3 514.1L429.9 510.9L429.5 510.2L429.1 511.1L428.7 510.5L428.3 511.1L427.9 512.1L427.5 511.5L427.1 512.7L426.7 512.1L426.3 513.5L425.9 514.5L425.5 512.3L425.1 513.1L424.7 514.2L424.3 515.1L423.9 514.4L423.5 510.8L423.1 511.9L422.7 510.2L422.3 506.1L421.9 508L421.5 504.9L421.1 504.4L420.7 503L420.3 503L419.9 500.8L419.5 502L419.1 504.3L418.7 504.8L418.3 505.6L417.9 505.8L417.5 506.2L417.1 507.5L416.7 508.4L416.3 507L415.9 506.8L415.5 505.7L415.1 506.4L414.7 506L414.3 505L413.9 502L413.5 505.1L413.1 508.1L412.7 507L412.3 506.9L411.9 509.6L411.5 505.7L411.1 509.7L410.7 511.8L410.3 513.7L409.9 513.1L409.5 513.8L409.1 514.2L408.7 513.5L408.3 513.8L407.9 511.3L407.5 509.2L407.1 507.9L406.7 508.5L406.3 509L405.9 512.1L405.5 511.4L405.1 509.2L404.7 514.1L404.3 515.4L403.9 514.8L403.5 516.1L403.1 515L402.7 513L402.3 513.6L401.9 513.3L401.5 513.4L401.1 516.7L400.7 517.1L400.3 514.6L399.9 515.5L399.5 514.9L399.1 514.2L398.7 511.1L398.3 511.9L397.9 509.2L397.5 509.2L397.1 510.9L396.7 509.2L396.3 508.2L395.9 509L395.5 506.9L395.1 510L394.7 508.5L394.3 508.8L393.9 508.7L393.5 506.9L393.1 508.1L392.7 509.7L392.3 503.3L391.9 504.4L391.5 504.6L391.1 502.7L390.7 501.3L390.3 496.8L389.9 496.6L389.5 492.9L389.1 490.7L388.7 493.4L388.3 491.2L387.9 489.7L387.5 493.1L387.1 491.8L386.7 493.3L386.3 492.4L385.9 491.7L385.5 492.7L385.1 494.2L384.7 493.2L384.3 489.4L383.9 487.5L383.5 489.6L383.1 489.7L382.7 489.7L382.3 488.2L381.9 487.5L381.5 488.4L381.1 486.6L380.7 486.7L380.3 486.8L379.9 487.2L379.5 487.5L379.1 488L378.7 489.3L378.3 491.9L377.9 488.4L377.5 490L377.1 487.7L376.7 486.8L376.3 484.5L375.9 483.6L375.5 481.1L375.1 483.5L374.7 482.2L374.3 481.9L373.9 480.2L373.5 481.6L373.1 484L372.7 485.2L372.3 483.5L371.9 482.6L371.5 483.7L371.1 486.1L370.7 484.5L370.3 484.1L369.9 484.4L369.5 485.1L369.1 483.5L368.7 484L368.3 481.6L367.9 480.2L367.5 480.6L367.1 479L366.7 477.6L366.3 476.5L365.9 476.5L365.5 476.4L365.1 478.1L364.7 475.5L364.3 477.1L363.9 474.1L363.5 473.4L363.1 473.7L362.7 470.7L362.3 475.9L361.9 472.1L361.5 471.7L361.1 469.8L360.7 469.8L360.3 470.1L359.9 465.3L359.5 464.1L359.1 460.4L358.7 461.5L358.3 456.8L357.9 453.8L357.5 453.1L357.1 452.5L356.7 451.3L356.3 453.9L355.9 453L355.5 452.5L355.1 451.5L354.7 451.5L354.3 451L353.9 450.9L353.5 450.2L353.1 451.4L352.7 450.2L352.3 450.2L351.9 446.2L351.5 446.2L351.1 444.8L350.7 446.2L350.3 442.5L349.9 442.7L349.5 443.3L349.1 443.7L348.7 443.5L348.3 444.7L347.9 443.2L347.5 444.5L347.1 445.7L346.7 447.8L346.3 447.4L345.9 446.6L345.5 443.9L345.1 441L344.7 438L344.3 439.3L343.9 437L343.5 437.4L343.1 435.8L342.7 436.1L342.3 436.1L341.9 436.3L341.5 437.1L341.1 441.7L340.7 439.2L340.3 440.1L339.9 440.1L339.5 440.4L339.1 441.7L338.7 437.9L338.3 439.7L337.9 440.6L337.5 439.5L337.1 439.5L336.7 437.5L336.3 437.7L335.9 435.1L335.5 436.7L335.1 435.3L334.7 431.6L334.3 433.7L333.9 429.6L333.5 430.9L333.1 427.9L332.7 430.3L332.3 429.8L331.9 425.9L331.5 429L331.1 428.4L330.7 426.6L330.3 427L329.9 427.9L329.5 426L329.1 425.3L328.7 424.7L328.3 420.8L327.9 421.8L327.5 416.9L327.1 415.8L326.7 411.3L326.3 411.5L325.9 409L325.5 411.5L325.1 407.3L324.7 409.1L324.3 405.3L323.9 410.4L323.5 408.1L323.1 410.3L322.7 408.5L322.3 408.3L321.9 407.2L321.5 406.6L321.1 404.7L320.7 407.3L320.3 402L319.9 403.7L319.5 402.4L319.1 402.1L318.7 401.1L318.3 403.3L317.9 399.6L317.5 402L317.1 403.2L316.7 401.7L316.3 402.3L315.9 402.9L315.5 405.6L315.1 402.1L314.7 403.1L314.3 403.9L313.9 403.2L313.5 399.1L313.1 397.3L312.7 396L312.3 397.6L311.9 396.1L311.5 395.7L311.1 397L310.7 395.7L310.3 395.7L309.9 396L309.5 398.2L309.1 398.5L308.7 397.5L308.3 398.9L307.9 399.5L307.5 397.4L307.1 398.5L306.7 399.2L306.3 398.3L305.9 399.6L305.5 398L305.1 399.1L304.7 398.1L304.3 393.8L303.9 395.6L303.5 392.8L303.1 390L302.7 392.4L302.3 392.4L301.9 390.5L301.5 389.3L301.1 390.5L300.7 388.1L300.3 388.3L299.9 388.4L299.5 389.1L299.1 390.1L298.7 392.7L298.3 388.2L297.9 386L297.5 383.1L297.1 386.2L296.7 383.1L296.3 379.2L295.9 377.9L295.5 375.3L295.1 372.2L294.7 371.2L294.3 368.7L293.9 368.2L293.5 368.2L293.1 369.6L292.7 369L292.3 372.4L291.9 368L291.5 371.1L291.1 369.7L290.7 370.6L290.3 368.5L289.9 370.6L289.5 366.9L289.1 367.3L288.7 364.6L288.3 362.2L287.9 364.2L287.5 365L287.1 365.9L286.7 364.4L286.3 363.3L285.9 362.5L285.5 363.3L285.1 363.4L284.7 365.2L284.3 363.9L283.9 364.7L283.5 366.4L283.1 364.3L282.7 364.3L282.3 360.4L281.9 359.3L281.5 357.9L281.1 357.9L280.7 356.9L280.3 356.3L279.9 357.1L279.5 357.5L279.1 356.7L278.7 356.3L278.3 359.3L277.9 359.3L277.5 358.8L277.1 359L276.7 359.4L276.3 359.8L275.9 360.5L275.5 357.2L275.1 355.9L274.7 355.2L274.3 355.3L273.9 350.2L273.5 350.7L273.1 348.6L272.7 346.9L272.3 344L271.9 343.5L271.5 343.3L271.1 338.1L270.7 340.2L270.3 335.3L269.9 336.5L269.5 334.8L269.1 331L268.7 331.4L268.3 329.4L267.9 331.9L267.5 328.1L267.1 325.6L266.7 326.2L266.3 323.7L265.9 322L265.5 321.1L265.1 315.9L264.7 314.2L264.3 307.7L263.9 308.9L263.5 303.6L263.1 302.9L262.7 300.6L262.3 298.8L261.9 298.4L261.5 296L261.1 294.7L260.7 295.5L260.3 294.7L259.9 294L259.5 291.7L259.1 289.6L258.7 287.9L258.3 286.6L257.9 283.1L257.5 280.6L257.1 279.6L256.7 278.1L256.3 279.4L255.9 275.7L255.5 273.3L255.1 273.3L254.7 273.4L254.3 271.8L253.9 269.4L253.5 271.7L253.1 269.3L252.7 271.2L252.3 270.2L251.9 266.4L251.5 266.5L251.1 264.1L250.7 263.6L250.3 261.5L249.9 260L249.5 261.8L249.1 262.2L248.7 265.7L248.3 267.4L247.9 269.3L247.5 277L247.1 276.4L246.7 278.7L246.3 284.6L245.9 281.7L245.5 286.3L245.1 288.3L244.7 287.9L244.3 289.5L243.9 292L243.5 295.3L243.1 295.1L242.7 300.6L242.3 299.5L241.9 302.2L241.5 302.5L241.1 304.4L240.7 302.9L240.3 305.1L239.9 306.2L239.5 306.9L239.1 309.3L238.7 308.3L238.3 312.3L237.9 312L237.5 315.1L237.1 315L236.7 318.1L236.3 319.9L235.9 321.4L235.5 321L235.1 327.1L234.7 327.8L234.3 328.6L233.9 328.3L233.5 330.1L233.1 327.8L232.7 329.6L232.3 327.9L231.9 327.8L231.5 327.2L231.1 328.2L230.7 331L230.3 330.3L229.9 332.4L229.5 337.8L229.1 339.9L228.7 342.5L228.3 343L227.9 344.3L227.5 343.9L227.1 347.6L226.7 348.8L226.3 348.8L225.9 350.7L225.5 351.4L225.1 351.3L224.7 351.6L224.3 354.8L223.9 357.2L223.5 355.3L223.1 357.4L222.7 354L222.3 357.4L221.9 355.7L221.5 356.5L221.1 359.2L220.7 358.1L220.3 359.9L219.9 358.4L219.5 357.8L219.1 358.2L218.7 351.2L218.3 352.7L217.9 350L217.5 349.8L217.1 347.3L216.7 351.1L216.3 351.4L215.9 351.7L215.5 353.9L215.1 355L214.7 356.8L214.3 353.6L213.9 356L213.5 356.5L213.1 358.1L212.7 357.2L212.3 356.3L211.9 355.6L211.5 355.3L211.1 357.3L210.7 353.4L210.3 354.9L209.9 354.9L209.5 352.9L209.1 349.1L208.7 350.9L208.3 352.7L207.9 348.3L207.5 350.4L207.1 347.8L206.7 349.4L206.3 347.7L205.9 350.3L205.5 345.6L205.1 349.2L204.7 346.9L204.3 347.4L203.9 349.7L203.5 346.3L203.1 346.8L202.7 345L202.3 343.9L201.9 340.8L201.5 340.4L201.1 338.8L200.7 335.5L200.3 332.2L199.9 332.1L199.5 330.5L199.1 330L198.7 328.9L198.3 330.8L197.9 330.5L197.5 332.9L197.1 330.5L196.7 332.3L196.3 333L195.9 332.2L195.5 329.4L195.1 331.8L194.7 330.4L194.3 330.4L193.9 324.9L193.5 326.8L193.1 325.6L192.7 323.5L192.3 327.8L191.9 328.2L191.5 327.1L191.1 327.7L190.7 326.7L190.3 327.2L189.9 329.2L189.5 330.7L189.1 328.6L188.7 330.4L188.3 327.8L187.9 327.3L187.5 326.2L187.1 324.8L186.7 321L186.3 319.9L185.9 322L185.5 320.4L185.1 320.9L184.7 323L184.3 322.7L183.9 324.9L183.5 325.6L183.1 327.8L182.7 326.3L182.3 327.1L181.9 327.7L181.5 325.3L181.1 326.1L180.7 326.2L180.3 329.5L179.9 326.5L179.5 330.2L179.1 324.9L178.7 328.5L178.3 325.9L177.9 324.4L177.5 322.9L177.1 320.5L176.7 323.4L176.3 321.3L175.9 322.8L175.5 323.3L175.1 319.5L174.7 321L174.3 320.3L173.9 322.7L173.5 321.5L173.1 319.2L172.7 318.4L172.3 320.2L171.9 315.6L171.5 313.6L171.1 311.8L170.7 309.2L170.3 301.7L169.9 299.4L169.5 296L169.1 290L168.7 287.5L168.3 284.1L167.9 280.4L167.5 275.4L167.1 275.9L166.7 276.7L166.3 273L165.9 272.9L165.5 269.1L165.1 270.2L164.7 267.4L164.3 264.3L163.9 262.8L163.5 257.6L163.1 256.7L162.7 255.2L162.3 251.4L161.9 247.2L161.5 247.4L161.1 243.9L160.7 240.7L160.3 242.9L159.9 238L159.5 238.5L159.1 233.6L158.7 234.6L158.3 232.7L157.9 230.4L157.5 229L157.1 224.9L156.7 223.1L156.3 222.1L155.9 213.9L155.5 211.4L155.1 210.6L154.7 206.6L154.3 203L153.9 197.7L153.5 202.3L153.1 199.8L152.7 195.5L152.3 193.1L151.9 191.6L151.5 190.7L151.1 189.3L150.7 189.5L150.3 183.7L149.9 182.9L149.5 180.8L149.1 177.4L148.7 176.1L148.3 171.8L147.9 173.3L147.5 168.9L147.1 165.2L146.7 163.9L146.3 161L145.9 160L145.5 162.1L145.1 158.6L144.7 161.1L144.3 160.5L143.9 162.9L143.5 159.9L143.1 161.3L142.7 160.5L142.3 160.2L141.9 163.3L141.5 162.4L141.1 160.2L140.7 160.1L140.3 161.9L139.9 159.6L139.5 159.7L139.1 158L138.7 161.3L138.3 155.2L137.9 154.6L137.5 152.3L137.1 149.8L136.7 149.3L136.3 150.8L135.9 148.1L135.5 150.2L135.1 151.2L134.7 151L134.3 152.1L133.9 152.5L133.5 153.8L133.1 152.5L132.7 155.3L132.3 152.1L131.9 152.8L131.5 153.4L131.1 151.5L130.7 152.3L130.3 151.2L129.9 152.6L129.5 152.7L129.1 151.9L128.7 153.1L128.3 153.4L127.9 154.9L127.5 153.9L127.1 155.3L126.7 157L126.3 159.6L125.9 158.3L125.5 156.8L125.1 158.1L124.7 158.3L124.3 155.9L123.9 155.1L123.5 154L123.1 155.1L122.7 153.4L122.3 153.8L121.9 155.5L121.5 157.8L121.1 159.1L120.7 159Z" fill="#0072B2" fill-opacity="0.2" stroke="#0072B2" stroke-opacity="0.2" stroke-width="2.1" stroke-linejoin="round"/>
<path d="M152.5 15.25V542.25M278.5 15.25V542.25M404.5 15.25V542.25M530.5 15.25V542.25M657.5 15.25V542.25M783.5 15.25V542.25M909.5 15.25V542.25" stroke="#808080" stroke-opacity="0.2" stroke-width="1.39" fill="none"/>
<path d="M79.5 503.5H985.25M79.5 396.5H985.25M79.5 290.5H985.25M79.5 184.5H985.25M79.5 77.5H985.25" stroke="#808080" stroke-opacity="0.2" stroke-width="1.39" fill="none"/>
<path d="M120 116.5h0M121.2 88.4h0M121.5 103.5h0M121.5 107.5h0M121.5 110h0M121.5 119h0M121.5 123h0M122 104.5h0M122 114h0M122.5 116.5h0M122.5 121h0M122.5 124.5h0M123 102.5h0M123 104h0M123 123.5h0M123.5 110h0M123.5 128.5h0M124 127h0M124.5 109h0M125 144h0M125.4 75.2h0M125.4 84.4h0M125.5 115h0M125.5 146h0M125.5 159h0M125.5 161.5h0M126 125.5h0M126 131.5h0M126 140.5h0M126 160.5h0M126.2 92.1h0M126.5 108.5h0M126.5 119.5h0M126.5 130h0M126.5 145.5h0M127 123.5h0M127 135h0M127 139.5h0M127 150.5h0M127.5 118h0M127.5 128.5h0M127.5 137h0M127.5 138h0M127.5 142.5h0M127.5 165.5h0M128 113.5h0M128 114.5h0M128 148h0M128.5 118h0M128.5 139.5h0M128.5 151.5h0M128.5 153.5h0M128.5 158h0M129 123h0M129 128.5h0M129 163.5h0M129 172.5h0M129.5 150.5h0M129.5 168.5h0M129.5 179.5h0M129.5 205h0M130 175h0M130.5 156h0M130.5 173h0M130.5 181h0M130.5 185.5h0M130.5 188.5h0M130.5 193h0M130.5 198h0M130.5 201.5h0M131 203.5h0M131.5 180h0M131.5 186.5h0M132 164h0M132 166.5h0M132 169.5h0M132 178h0M132 207.5h0M133 160.5h0M133 177.5h0M133 210h0M133.5 181.5h0M133.5 204.5h0M133.5 209h0M134 174h0M134 175h0M134 185h0M134 188h0M134 196.5h0M134.5 167.5h0M134.5 179.5h0M134.5 198h0M135 190.5h0M135 194.5h0M135.5 181h0M135.5 185.5h0M135.5 200h0M135.5 204h0M135.6 144.8h0M136 176.5h0M136 206h0M136.2 39.4h0M136.2 58.5h0M136.2 60.2h0M136.2 81.2h0M136.5 94h0M136.5 103h0M136.5 161h0M136.9 68.5h0M137 173.5h0M137.5 77.2h0M137.5 87h0M137.5 89h0M137.5 97h0M137.5 100h0M137.5 166.5h0M138 94h0M138 104.5h0M138 158.5h0M138.1 142.2h0M138.5 87.5h0M138.5 103.5h0M138.5 111h0M138.5 154.5h0M138.5 156h0M138.5 171.5h0M138.8 152.8h0M138.8 156h0M139 91h0M139 152.5h0M139 153.5h0M139 158.8h0M139 159.5h0M139 167h0M139.5 89.5h0M139.5 98.5h0M139.5 171h0M139.5 173h0M140 109h0M140 113.5h0M140 167h0M140.2 140h0M140.5 95h0M140.5 99h0M141 87h0M141 102.5h0M141 108h0M141 118h0M141.5 68.1h0M141.5 97h0M141.5 123h0M141.9 78.8h0M142.5 89.5h0M142.5 113h0M142.5 119h0M142.5 122h0M143 86.5h0M143 110h0M143.1 70.6h0M143.4 47.8h0M143.4 50h0M143.5 90.5h0M143.5 99h0M144 91.5h0M144.5 96h0M144.5 101h0M144.5 114h0M144.5 117h0M145.5 125h0M145.6 143.1h0M146 90.5h0M146 105.5h0M146 117.5h0M146.5 110h0M147 87h0M147 106h0M147 123.5h0M147.5 94h0M148 89h0M148 109.5h0M148 128.5h0M148.5 101.5h0M149 97h0M149.5 111.5h0M149.5 115h0M149.5 127.5h0M150 99h0M150 120.5h0M150 147h0M150.5 106h0M150.5 136.5h0M150.5 140.5h0M151 132.5h0M151 142.5h0M151 146.5h0M151.2 173.1h0M151.5 126.5h0M152 100.5h0M152 121.5h0M152 134.5h0M152 143.5h0M152.5 146h0M153 113h0M153 117h0M153 140h0M153.1 182.5h0M153.1 186.9h0M153.5 105.5h0M153.5 108h0M153.5 127h0M153.5 147.5h0M154 118h0M154 131h0M154.4 162.5h0M154.5 122h0M155 127h0M155 138h0M155 152.5h0M155.5 103.5h0M155.5 106h0M155.5 131h0M155.5 144h0M156 112h0M156 114h0M156 119h0M156 135h0M156 138h0M156 140.5h0M156 145.5h0M156 147h0M156 209.5h0M156.5 121.5h0M156.5 126.5h0M156.5 131.5h0M156.5 148.5h0M157 104.5h0M157 108.5h0M157 117h0M157.5 135.5h0M157.5 142.5h0M157.5 179.4h0M157.5 204h0M157.5 206h0M157.5 208.5h0M157.5 213h0M158 112h0M158 127h0M158 201.5h0M158.1 232.5h0M158.5 215h0M158.5 237.5h0M158.8 226.2h0M159 211h0M159 217h0M159 218h0M160 199h0M160 202h0M160.5 216h0M161.5 202.5h0M161.5 204.5h0M162 195.5h0M162 197h0M162 209h0M162 213.5h0M162.5 212.5h0M163.5 198.5h0M164.5 198h0M164.5 215h0M165 195h0M165 196.5h0M165.5 205.5h0M165.5 217.5h0M166 216.5h0M166.5 202h0M166.5 208h0M167 200.5h0M167 215h0M168 200h0M168 205h0M168 213h0M168 242.5h0M168.5 193.5h0M168.5 197.5h0M168.5 208h0M168.5 211.5h0M168.5 222.5h0M168.5 226h0M168.5 230.5h0M168.5 236h0M169 192.5h0M169 214h0M169 228.5h0M169 250h0M169.5 222h0M169.5 223.5h0M169.5 236.5h0M169.5 240h0M170 227.5h0M170 232h0M170 242.5h0M170 244.5h0M170 246h0M170 248h0M170 323h0M170.5 253h0M170.5 255.5h0M170.5 300h0M170.5 315h0M171 236h0M171 256.5h0M171 303h0M171 307.5h0M171 309.5h0M171 312.5h0M171 327.5h0M171 357h0M171.2 283.5h0M171.5 242h0M171.5 245.5h0M171.5 250h0M171.5 254.5h0M171.5 300.5h0M171.5 305.5h0M171.5 319.5h0M171.5 324h0M172 315h0M172 322h0M172 325.5h0M172 332.5h0M172 340.5h0M172.5 240h0M172.5 329.5h0M172.5 344h0M172.5 360.5h0M173 309h0M173 334.5h0M173 338.5h0M173 347.5h0M173 352h0M173 359h0M173.5 340h0M173.5 364.5h0M174 344h0M174 352.5h0M174 357h0M174 366h0M174.5 360.5h0M175 339h0M175.5 355h0M176 346h0M176 365h0M176.5 343h0M176.5 357.5h0M176.5 362h0M177 349.5h0M177.5 364h0M177.5 365.5h0M178 346h0M178.5 354h0M179 357.5h0M179 363h0M179.5 361h0M180.5 318h0M180.5 323h0M180.5 331.5h0M180.5 345.5h0M180.5 350h0M181 325.5h0M181.5 319.5h0M181.5 328.5h0M181.5 355h0M182 318h0M182 332h0M182 338h0M182 342h0M182 353h0M182.5 335h0M182.5 339.5h0M182.5 356.5h0M183 336.5h0M183 341.5h0M183 354h0M184 338.5h0M184.5 322.5h0M184.5 331.5h0M184.5 340.5h0M184.5 342h0M185.5 324.5h0M186 338h0M186 341.5h0M186.5 327.5h0M187 317h0M187 321h0M187.5 306h0M187.5 330h0M187.5 339h0M188 310h0M188 331.5h0M188 334h0M188.5 299h0M188.5 314.5h0M188.5 321h0M188.5 324.5h0M188.5 336.5h0M189 300h0M189 303h0M189 306.5h0M189 308.5h0M189 313.5h0M189 316h0M189 326.5h0M189.5 242h0M189.5 245.5h0M189.5 298.5h0M189.6 269.6h0M189.6 290.4h0M190 204.5h0M190 250.5h0M190 252h0M190 277.5h0M190 279.8h0M190.5 218h0M190.5 245h0M191 200.5h0M191 213h0M191 238.5h0M191 242h0M191.5 199h0M191.5 207h0M191.5 209.5h0M191.5 223h0M191.5 227.5h0M192 204.5h0M192 217h0M192 218h0M192 229.5h0M192 235.5h0M192 248h0M192.5 192.2h0M192.5 192.5h0M192.5 198.5h0M192.5 200.5h0M192.5 212h0M192.5 224h0M192.5 233.5h0M192.5 252.5h0M193 209h0M193 214.5h0M193 221.5h0M193 228.5h0M193 236h0M193 244h0M193 246.5h0M193 255.5h0M193.5 204h0M193.5 218.5h0M194 231h0M194.5 225.5h0M195 252h0M195.5 236h0M196 238.5h0M196 241.5h0M196 248.5h0M196 254.5h0M196 259.5h0M197 244.5h0M197 251h0M197 258.5h0M197 271.5h0M197 273h0M198 242.5h0M198 247.5h0M198 258h0M198 260h0M198.5 251h0M198.5 255h0M198.5 261.5h0M198.5 290.5h0M199 271h0M199 274.5h0M199 275.5h0M199.5 247h0M199.5 270h0M199.5 272h0M199.5 290.5h0M199.5 295.5h0M200 276h0M200 277h0M200 278h0M200 283.5h0M200 300h0M200 312.5h0M200.5 258h0M200.5 281h0M200.5 284.5h0M200.5 286h0M200.5 295h0M200.5 305h0M200.5 308.5h0M201 290h0M201 301.5h0M201.5 293.5h0M201.5 312.5h0M202 299.5h0M202 308.5h0M202 323h0M202 330.5h0M202.5 296h0M202.5 312h0M202.5 333h0M203 304h0M203 320h0M203 325h0M203.5 317.5h0M203.5 329h0M203.5 331.5h0M204 312.5h0M204.5 324h0M205 305.5h0M205 308.5h0M205 339.5h0M205.5 310.5h0M205.5 315.5h0M205.5 336h0M205.5 343.5h0M206 301.5h0M206 302.5h0M206 305h0M206.5 312h0M206.5 320.5h0M206.5 329h0M206.5 340h0M206.5 346h0M207 304.5h0M207 308.5h0M207 325h0M207 333h0M207.5 317.5h0M207.5 337h0M207.5 342.5h0M207.5 350h0M208 321.5h0M208 327h0M208 333h0M209 345.5h0M209 349h0M210 341.5h0M210 354h0M210.5 365.5h0M211 385h0M211.5 352.5h0M211.5 354.5h0M211.5 369h0M211.5 373.5h0M211.5 379.5h0M211.5 380.5h0M211.5 382h0M211.5 383.5h0M212 350h0M212 362.5h0M212 365.5h0M212 375.5h0M212.5 378.5h0M213 344h0M213 358.5h0M213.5 345.5h0M213.5 362h0M213.5 370.5h0M213.5 374.5h0M214 356.5h0M214 366h0M214 368h0M214.5 357.5h0M215 341h0M215.5 338.5h0M215.5 353h0M216 370h0M216.5 339.5h0M216.5 345h0M216.5 347.5h0M217 333.5h0M217.5 334.5h0M217.5 340h0M217.5 353h0M217.5 360.5h0M217.5 373.5h0M218 363.5h0M218.5 343.5h0M218.5 372.5h0M219 355.5h0M219 368h0M220 356.5h0M220 365.5h0M220 375.5h0M220.5 360h0M220.5 378h0M221 380h0M221.5 371.5h0M221.5 376.5h0M221.5 381h0M222 354h0M222.5 359h0M222.5 371.5h0M223 367.5h0M223.5 356.5h0M224.5 372.5h0M225 342.5h0M225 347h0M225 362.5h0M225 366h0M225 371h0M225.5 334h0M225.5 350.5h0M225.5 353.5h0M225.5 358.5h0M225.5 373.5h0M226 356h0M226.5 321h0M226.5 339h0M226.5 342h0M226.5 346h0M227 351.5h0M227.5 326h0M227.5 327.5h0M227.5 329h0M228 319h0M228 323.5h0M228 333.5h0M228 335h0M228 340h0M228 346h0M228 353h0M228.5 343.5h0M228.5 347h0M229 296h0M229 320h0M229 352h0M229.5 309.5h0M229.5 315.5h0M229.5 336h0M230.5 301h0M230.5 305.5h0M230.5 311.5h0M230.5 321.5h0M230.5 329.5h0M231.5 295.5h0M231.5 296.5h0M231.5 301.5h0M231.5 317h0M232 308.5h0M232 324.5h0M232.5 314.5h0M233 304h0M233 306.5h0M233.5 299h0M233.5 315h0M234 318h0M234 324.5h0M234 327.5h0M234.5 301h0M234.5 312h0M235.5 321h0M236 301h0M236 307h0M236 324.5h0M236.2 235.2h0M236.2 277.2h0M236.5 277.2h0M236.5 315.5h0M236.5 326h0M237 300h0M237 305.5h0M237 318h0M237 322.5h0M237.5 192.5h0M237.5 205h0M237.5 210.5h0M237.5 216h0M237.5 224.5h0M237.5 309.5h0M237.5 313h0M238 220.5h0M238 228h0M238 247.5h0M238.5 216h0M238.5 226h0M238.5 305h0M239 221.5h0M239 245h0M239 247h0M239.5 184h0M239.5 201.5h0M239.5 208h0M239.5 213h0M240 170.5h0M240 203.5h0M240 231.5h0M240 246h0M240.4 158.4h0M240.5 169.5h0M240.5 173h0M240.5 174h0M240.5 175h0M241 182.5h0M241 186.5h0M241 202.5h0M241 222h0M241.5 183.5h0M241.5 194.5h0M241.5 201h0M241.5 226h0M241.5 239.5h0M242 182h0M242 192h0M242 193.5h0M242 217.5h0M242 234.5h0M242.5 181h0M242.5 189.5h0M242.5 208h0M242.5 211h0M242.5 231.5h0M242.5 249h0M243 198.5h0M243 218h0M243 242.5h0M243.5 205h0M243.5 214.5h0M243.5 238.5h0M244 189h0M244 200.5h0M244 234h0M244.5 227h0M244.5 236h0M245 219.5h0M245 224.5h0M245 240.5h0M245 243h0M245 249h0M245.5 193.5h0M245.5 209h0M245.5 217.5h0M245.5 247.5h0M246 223h0M246 245.5h0M246.5 230h0M246.5 234h0M247 169.5h0M247 201h0M247.5 246.5h0M248 185.5h0M248.5 163.5h0M248.5 164.5h0M248.5 170h0M248.5 172.5h0M248.5 176.5h0M248.5 190h0M248.5 193h0M248.5 205h0M248.5 209.5h0M248.5 216h0M248.5 236h0M249 167.5h0M249 175h0M249 181h0M249 196h0M249 203h0M249 213.5h0M249 227.5h0M249.5 185h0M249.5 192.5h0M249.5 197.5h0M249.5 211h0M249.5 231h0M250 186h0M250 188h0M250 237h0M250 243h0M250 255h0M250.5 181.5h0M250.5 233.5h0M250.5 251h0M250.5 266.5h0M250.5 272.5h0M251 228h0M251 235.5h0M251 239.5h0M251 257.5h0M251.2 279.4h0M251.2 279.4h0M251.5 226h0M251.5 246.5h0M251.5 251h0M251.5 255.5h0M251.5 268.5h0M251.5 272h0M252 261.5h0M252.5 207.5h0M252.5 265h0M252.5 272h0M253 227.5h0M253 253h0M253 257.5h0M253.5 208.5h0M254 265h0M254.5 212.5h0M254.5 231h0M254.5 249.5h0M254.5 259.5h0M255 232.5h0M255 237h0M255 239.5h0M255 243h0M255 274h0M255.5 206.5h0M255.5 214h0M255.5 224.5h0M255.5 245.5h0M255.5 264.5h0M256 219.5h0M256 227h0M256 229h0M256 254.5h0M256 269.5h0M256.5 206h0M256.5 209.5h0M256.5 215.5h0M256.5 222h0M256.5 231.5h0M256.5 235.5h0M257 205h0M257 212.5h0M257 216.5h0M257 241.5h0M257.5 226.5h0M257.5 231h0M258 209h0M258 249h0M258.5 252.5h0M258.5 272.5h0M259 268.5h0M259.5 248.5h0M259.5 260h0M260 257h0M260 273.5h0M260.5 263h0M260.5 265.5h0M261 256.5h0M261.5 260.5h0M262 273.5h0M262 275.5h0M262.5 270h0M263 261h0M263 264.5h0M263 277h0M263 294h0M263.5 268h0M263.5 278h0M263.5 290h0M263.5 297.5h0M263.5 302.5h0M264 271h0M264 280h0M264 286.5h0M264 292.5h0M264.5 285h0M264.5 302h0M265 287.5h0M265 293.5h0M265 298h0M265 308.5h0M265.5 305.5h0M265.5 312h0M265.5 313.5h0M265.5 329h0M266.5 302.5h0M266.5 309h0M266.5 314.5h0M266.5 333.5h0M267 313h0M267 324h0M267 325.5h0M267 329.5h0M267 339h0M267.5 333h0M268 323h0M268 331.5h0M268 338h0M268.5 336.5h0M269 327h0M270 329.5h0M270 334.5h0M270 341.5h0M270.5 337h0M271 327h0M271 333h0M271 345h0M272 334h0M272 338.5h0M272 343.5h0M272.5 342h0M273 351.5h0M273.5 347.5h0M274.5 359h0M275 346.5h0M275 351.5h0M275 355h0M275 364.5h0M276 345h0M276 350h0M276 353.5h0M276.5 352.5h0M276.5 360h0M277 356h0M277 364h0M277.5 368.5h0M277.5 375.5h0M278 359h0M278 371.5h0M278 374.5h0M278.5 364h0M278.5 372.5h0M279 348h0M279.5 349.5h0M280 352.5h0M280 354.5h0M281.5 345h0M281.5 346h0M281.5 350.5h0M282 347h0M282 353h0M282.5 315.5h0M282.5 326.5h0M282.5 349.5h0M283 321.5h0M283.5 323.5h0M283.5 325.5h0M284 301.5h0M284 312h0M284 315.5h0M284 328.5h0M284.5 302.5h0M284.5 305.5h0M284.5 318.5h0M284.5 350h0M285 322h0M285.5 302h0M285.5 304.5h0M285.5 329h0M286 309.5h0M286 327h0M286.5 306.5h0M286.5 313h0M286.5 315h0M286.5 322.5h0M287 319.5h0M287 329h0M287.5 305h0M287.5 308h0M287.5 330h0M288 313h0M288.5 319h0M289 317h0M289.4 343.5h0M289.5 321.5h0M289.5 325h0M289.5 328h0M290 365h0M290.5 369.5h0M291.5 363.5h0M291.5 367.5h0M291.5 369.5h0M292 353.5h0M292 354.5h0M292 355.5h0M292 358h0M292.5 356.5h0M293.5 361.5h0M294 364.5h0M294.5 371h0M295.5 363h0M295.5 368h0M297 366h0M297 374.5h0M297 375.5h0M297.5 369.5h0M298 371.5h0M298 373h0M299.5 372h0M300 364.5h0M300.5 366h0M301.5 367h0M301.5 368h0M302.5 368.5h0M302.5 372h0M303 370h0M303 371h0M305 368h0M305.5 368.5h0M306 369.5h0M306.2 358.5h0M306.2 358.5h0M307 330h0M307 345h0M307.5 319.4h0M307.5 322.5h0M307.5 341h0M308 329h0M308 333h0M308 335.5h0M308 338.5h0M308 344h0M309 322.5h0M309 327h0M309 336h0M309 348h0M309.5 323h0M309.5 324h0M309.5 339h0M309.5 350.5h0M310 343.5h0M310 346h0M310.5 325h0M310.5 333.5h0M310.5 350.5h0M311.5 313.1h0M311.5 330.5h0M311.5 342.5h0M311.5 348h0M312 322.5h0M312 337.5h0M312.5 333h0M312.5 353h0M313 322.5h0M313 325h0M313 328h0M313 330.5h0M313.5 326.5h0M314 330h0M314 343.5h0M314 352.5h0M314 359.5h0M314.4 336.9h0M314.5 335.5h0M314.5 350h0M315 337.5h0M315 357h0M315.5 360.5h0M315.5 363h0M316 338.5h0M316 357.5h0M316.5 342h0M316.5 352h0M316.5 354.5h0M316.5 363h0M316.5 364h0M317 339.5h0M317 346.5h0M318.5 362h0M319 342h0M319 353h0M319 358.5h0M319.5 345.5h0M320 341.5h0M320 345h0M320 351h0M320 361.5h0M321 349.5h0M321.5 361h0M321.5 363.5h0M322 353h0M322 379h0M322.5 349h0M322.5 356.5h0M322.5 359.5h0M322.5 364.5h0M322.5 365.5h0M323 353h0M323 367.5h0M323 370.5h0M323 373.5h0M323 376h0M323 380h0M323 382.5h0M323 385h0M324 362.5h0M324 377h0M324 380h0M324.5 383h0M324.5 387h0M324.5 389.5h0M325 396.5h0M325.5 385.5h0M325.5 392h0M326 389h0M326 390h0M326.5 396h0M326.5 402.5h0M327 400h0M328 404h0M328.5 389h0M328.5 391h0M329 405h0M330 395.5h0M330 402.5h0M330 404h0M331 391.5h0M331 394h0M331 395.5h0M331 400h0M332 399h0M332 405h0M332.5 408.5h0M333.5 401.5h0M333.5 409.5h0M334 404h0M335 407.5h0M335 411h0M335 412h0M335.5 405.5h0M336 410h0M338 414.5h0M338 417h0M338.5 408.5h0M338.5 412h0M338.5 418.5h0M339.5 417h0M340 418h0M340.5 411h0M341 409h0M341 416.5h0M343.5 412h0M344 417h0M345.5 416h0M346 414.5h0M346.5 417h0M347.5 416h0M348 409.5h0M349 410.5h0M350 410h0M350.5 407.5h0M350.5 418h0M351.5 404h0M352 413h0M352.5 404h0M352.5 405.5h0M352.5 410.5h0M353 418.5h0M354 404.5h0M354 406h0M354 409.5h0M354 417h0M355 413.5h0M355 419.5h0M355 420.5h0M355.5 418.5h0M357 416h0M359 417.5h0M359 419h0M359 422h0M360 423h0M360.5 421.5h0M361 424.5h0M361 427h0M361.5 429.5h0M361.5 430.5h0M361.5 431h0M361.5 444.5h0M361.5 445h0M362 432h0M362.5 447.5h0M363 444.5h0M363 450.5h0M363.5 447h0M363.5 451.5h0M363.5 454h0M363.5 457h0M364 450.5h0M364 467.5h0M364.5 451.5h0M364.5 456h0M364.5 459.5h0M364.5 464h0M364.5 472h0M365 448.5h0M365 466.5h0M365 470.5h0M365.5 459h0M366 473h0M366 474.5h0M366.5 456.5h0M366.5 461h0M366.5 464h0M366.5 472h0M367 469.5h0M368.5 461h0M369 460h0M369 468h0M369 471.5h0M369.5 459h0M369.5 473h0M370 462h0M371.5 461.5h0M372 460h0M372 463.5h0M372.5 466.5h0M372.5 468h0M373 462.5h0M373 473h0M373.5 471.5h0M374 467.5h0M375.5 472.5h0M375.5 473.5h0M376.5 466h0M377 471h0M379 468.5h0M379 469.5h0M379 475h0M380 474h0M381.5 470.5h0M381.5 473h0M381.5 474.5h0M382.5 475h0M384 472h0M384 475h0M384.5 470.5h0M384.5 476h0M385 450.5h0M385 473h0M385.5 453.5h0M386 451.5h0M386.5 456.5h0M386.5 457.5h0M387 448.5h0M387 452h0M387 454.5h0M387.5 449h0M388 448h0M388.5 449.5h0M388.5 454.5h0M389 457.5h0M389.5 450.5h0M391 455.5h0M391 460h0M392 455.5h0M392.5 454h0M392.5 463.5h0M393 458h0M393.5 461h0M393.5 465.5h0M394 458h0M394 464.5h0M394.5 472h0M395 464h0M395 469h0M395.5 470h0M396 467.5h0M396 473h0M397 473h0M397.5 469h0M397.5 475h0M397.5 481h0M398 483h0M398.5 480.5h0M398.5 485.5h0M400 485h0M400.5 479h0M402 479.5h0M402 485.5h0M404 480h0M405 479h0M405 485.5h0M405.2 465.9h0M405.2 473.6h0M406.5 486h0M407 480h0M407.5 481h0M407.5 484h0M408.5 487.5h0M409.5 491.5h0M410.5 491h0M411 483h0M411.5 487.5h0M411.5 492.5h0M411.5 494.5h0M412.5 491.5h0M413.5 485h0M415 483.5h0M415 492.5h0M415.5 489.5h0M415.5 491.5h0M416.5 484h0M417 490.5h0M417.5 488.5h0M420 482.5h0M420 487.5h0M420.5 486h0M421.5 480h0M423 479.5h0M423.5 478h0M423.5 485.5h0M424.5 478.5h0M425 482h0M425.5 479.5h0M425.5 484.5h0M427.5 481h0M428 483.5h0M429 487.5h0M429.5 485h0M430 487h0M432 488.5h0M433 489.5h0M434 484.5h0M434.5 488h0M436 488.5h0M436.5 483.5h0M437 481h0M437.5 482h0M438 487h0M438.5 488h0M438.8 461.6h0M438.8 466.4h0M439 485.5h0M441 478.5h0M441.5 480.5h0M442 482h0M443 476h0M443.5 477.5h0M444 481.5h0M445.5 475h0M446.5 476.5h0M446.5 479.5h0M446.5 481.5h0M447.5 473.5h0M447.5 474.5h0M448.5 478h0M449 478.5h0M449.5 475.5h0M450 473h0M451 474.5h0M451.5 471.5h0M452 469.5h0M452 477.5h0M453.5 475.5h0M454.5 468h0M454.5 476.5h0M455 468.5h0M455.5 467h0M455.5 469.5h0M457 476h0M457 477h0M457.5 474h0M458.5 474h0M460 475h0M461.5 476.5h0M462.5 474h0M464.5 473h0M464.5 474h0M464.5 475h0M465 476h0M465.2 462.4h0M466 467.2h0M468 407.5h0M468.4 444h0M468.4 455.2h0M468.5 413h0M468.5 414.5h0M468.5 416.5h0M468.8 428.8h0M468.8 434.4h0M468.8 443.8h0M468.9 429.6h0M468.9 433.6h0M469 411.5h0M469 420.5h0M469.5 413h0M469.5 422h0M470 409.5h0M470.4 382.2h0M470.4 390.6h0M470.4 394.4h0M470.5 399h0M470.5 406.5h0M470.5 417h0M470.5 424.5h0M471 400.5h0M471 404h0M471.2 386.2h0M471.5 400h0M471.5 424h0M472 403.5h0M472 407h0M472 421h0M472 444h0M472.5 410h0M472.5 415h0M472.5 422.5h0M472.5 430.5h0M472.5 433.5h0M472.5 437.5h0M472.5 441.5h0M472.5 448h0M472.5 449h0M473 413h0M473 417.5h0M473 443h0M473 447.5h0M473.5 421h0M473.5 431h0M473.5 438h0M474 413.5h0M474 436h0M474 445h0M474 463.6h0M474.5 431h0M475 439.5h0M476 430.5h0M476.5 447h0M477 428.5h0M477 430.5h0M477 440.5h0M477 448h0M478 434.5h0M478 437.5h0M478.5 431.5h0M479 430h0M479.5 443.5h0M480 431.5h0M480 435h0M480.5 447h0M481.5 448.5h0M482.5 440h0M483.5 437.5h0M483.5 448h0M484.5 439.5h0M484.5 443h0M484.5 450h0M485 442.5h0M485.5 452.5h0M486 439.5h0M486 444h0M486 449h0M486.5 448.5h0M487.5 451.5h0M488 454h0M489 458h0M489.5 454.5h0M490 451h0M490 458.5h0M490 464h0M490 471.5h0M490.5 452.5h0M491 460h0M491 468h0M491 471.5h0M491 472.5h0M491.5 470h0M492 452.5h0M492 468.5h0M492.5 450.5h0M492.5 465.5h0M493.5 451.5h0M494 458h0M494.5 462.5h0M495 464.5h0M495.5 461h0M496 458h0M496.5 453.5h0M496.5 456h0M498 461h0M498.5 459.5h0M499 454.5h0M501.5 461h0M502.5 456h0M502.5 458h0M502.5 459.5h0M503.5 459.5h0M505 455.5h0M505.5 458.5h0M506.5 458h0M507 459.5h0M507 462.5h0M508.5 462h0M509 460.5h0M509.5 466h0M510 464.5h0M510.5 465.5h0M511 472.5h0M511.5 463.5h0M511.5 469.5h0M511.5 475h0M512 467.5h0M512.5 471h0M512.5 472h0M513.5 477.5h0M515 473h0M515 477.5h0M516.5 473h0M516.5 475h0M516.5 476.5h0M516.5 479h0M517.5 476.5h0M517.5 480.5h0M519 475.5h0M519 477.5h0M519 479.5h0M519.5 459.5h0M520 461h0M520 465h0M520.5 468h0M521 461.5h0M521 466h0M521.5 459.5h0M522 469h0M522 470h0M522.5 458.5h0M522.5 464h0M523 467.5h0M524 459.5h0M524 460.5h0M524 467h0M524 468.5h0M525 465h0M527.5 462h0M528 459.5h0M529 457.5h0M530.5 460.5h0M531 455h0M531.5 449.5h0M531.5 458.5h0M532 452h0M532 454h0M532.5 445h0M532.5 446h0M532.5 447h0M533 450h0M533 459.5h0M534 449.5h0M534.5 461.5h0M535 453h0M536 455h0M536 460.5h0M538 453.5h0M538.5 463.5h0M539 462.5h0M539.5 458.5h0M540.5 453h0M540.5 459h0M540.5 462.5h0M540.5 464h0M541 455.5h0M541.5 451h0M542 451.5h0M542 459.5h0M542.5 450h0M542.5 451h0M542.5 456.5h0M543 454.5h0M543 466.5h0M544.5 468.5h0M544.5 470h0M545 469.5h0M546 470h0M548.5 471h0M549 465h0M549.5 463h0M549.5 465.5h0M549.5 468h0M550.5 470.5h0M551.5 470h0M553 469.5h0M553.5 464.5h0M554.5 467.5h0M555 466.5h0M555 468.5h0M555 470h0M555 472h0M556 462h0M556.4 443.3h0M556.5 456.5h0M556.5 457.5h0M556.5 464.5h0M557 449h0M557 450h0M557 452h0M557.5 455.5h0M558 448.5h0M558 452.5h0M558 468h0M559 463h0M560 461h0M560 470h0M561 467.5h0M561 469.5h0M561.5 468.5h0M562.5 461.5h0M562.5 470.5h0M563.5 460.5h0M564 462h0M564.5 472h0M565.5 467.5h0M565.5 470h0M566 464.5h0M566 471h0M566.5 465.5h0M566.5 468.5h0M568 471.5h0M571.5 467.5h0M571.5 469h0M571.5 471h0M572 465.5h0M572.5 466.5h0M572.5 471h0M574.5 463.5h0M574.5 470.5h0M574.5 471.5h0M576 462.5h0M576 467h0M577 463.5h0M578 470.5h0M578.5 462h0M579 469.5h0M580 461h0M580 463h0M580.5 465h0M582 464h0M582.5 470.5h0M583.5 464.5h0M584 469.5h0M584.5 467.5h0M586 470.5h0M586 472.5h0M587 472h0M587.5 467h0M588 470.5h0M588.5 466h0M589.5 469h0M590.5 471.5h0M591.5 468h0M591.5 472.5h0M592 469h0M593.5 471.5h0M594 469.5h0M594 473h0M595 468h0M595.5 474h0M597 472h0M598 470.5h0M598.5 471.5h0M599 472.5h0M599.9 430.8h0M600 413.8h0M600 468h0M600.4 410h0M600.4 414h0M600.4 431.6h0M600.4 440.4h0M600.4 441.2h0M600.4 448.4h0M600.4 448.4h0M600.4 457.2h0M600.4 457.2h0M600.5 469h0M601 374h0M601 467.5h0M601.2 405.2h0M601.2 426h0M601.2 426h0M601.2 345.2h0M601.2 405h0M601.2 409.4h0M601.4 282.4h0M601.4 313.4h0M601.4 337.4h0M602 369h0M602 386.5h0M602 388.5h0M602.5 367.5h0M602.5 374h0M602.5 379h0M602.5 380.5h0M603 365.5h0M603 382h0M603 387h0M603.4 325.4h0M603.5 351.5h0M603.5 358.5h0M603.5 366h0M603.5 371.5h0M603.5 374.5h0M603.5 386.5h0M604 346.2h0M604 392h0M605 369h0M605 389.5h0M605.5 371.5h0M605.5 378h0M605.5 387h0M606 383h0M606 393h0M606.5 375h0M606.5 380.5h0M606.5 387.5h0M606.5 389.5h0M606.5 392.5h0M606.5 395.5h0M607.5 374.5h0M607.5 383h0M607.5 388.5h0M607.5 400.5h0M608 377.5h0M608 385.5h0M608 397h0M608 398.5h0M608.5 391h0M608.5 403h0M608.5 406h0M608.5 413h0M609 380h0M609 393.5h0M609 396.5h0M609 409h0M609.5 378h0M609.5 412h0M609.5 414h0M610 396.5h0M610 405.5h0M610.5 378h0M610.5 380.5h0M610.5 399h0M610.5 416.5h0M611.5 400.5h0M611.5 404h0M611.5 408h0M611.5 415.5h0M612 407h0M612 409.5h0M612 412h0M612.5 417.5h0M613 410h0M614 414h0M614 431.5h0M614 444.5h0M614.5 429.5h0M614.5 442h0M614.5 449h0M615 417h0M615 430h0M615 434h0M615 438.5h0M615 446.5h0M615 448h0M615.5 418.5h0M615.5 430.5h0M615.5 436h0M616 419h0M616 431.5h0M616 439.5h0M616 444h0M616 445.5h0M617 430h0M617 432h0M617.5 434h0M617.5 438.5h0M617.5 444.5h0M619 444h0M619.5 432.5h0M619.5 435.5h0M620.5 441h0M621 443.5h0M622 388.5h0M622.2 383.1h0M622.5 387.5h0M622.5 399h0M622.5 436h0M622.5 443h0M623 388.5h0M623 390h0M623 393.5h0M623 397h0M623 413.5h0M623.1 380.6h0M623.5 402h0M623.5 403.5h0M623.5 417h0M623.5 423h0M623.5 426h0M624 394h0M624 400.5h0M624 425h0M624 435h0M624.5 396h0M624.5 407h0M624.5 409h0M624.5 410.5h0M624.5 415h0M624.5 419.5h0M624.5 421.5h0M624.5 422.5h0M624.5 427.5h0M624.5 440h0M625 404.5h0M625 412.5h0M625 426h0M625.5 407h0M625.5 418h0M625.5 436.5h0M625.5 438.5h0M626.5 425h0M626.5 441h0M627.5 419h0M627.5 420.5h0M627.5 434.5h0M628 422.5h0M628 423.5h0M628 435.5h0M628.5 424.5h0M629 421.5h0M629.5 431.5h0M629.5 439h0M630 427h0M630 434h0M631 430h0M631 437h0M631.5 441h0M631.5 442h0M633.5 429.5h0M633.5 430.5h0M634 439h0M634.5 434.5h0M635 440.5h0M635 442h0M636.5 431h0M637 434h0M637 436.5h0M637.5 431.5h0M637.5 439h0M637.5 442h0M638.5 435.5h0M639 438h0M639.5 434.5h0M639.5 447.5h0M640 442.5h0M640.5 433.5h0M640.5 440.5h0M640.5 447.5h0M640.5 451h0M641 438h0M641.5 443h0M641.5 448h0M642 452.5h0M642 453.5h0M643.5 446.5h0M645 451h0M645 455h0M645 456.5h0M646 448h0M647 454.5h0M648.5 445.5h0M648.5 447h0M649 448.5h0M649 452.5h0M650 435.6h0M650 440.4h0M650.5 445.5h0M650.5 446.5h0M651 451.5h0M651.5 444h0M652 449.5h0M653 452h0M653 453.5h0M653.5 451h0M654 446h0M654.5 447h0M655 445.5h0M656.5 448h0M657 451h0M658 448h0M658 449.5h0M658.5 447h0M659 450.5h0M660.5 450h0M662 453.5h0M662.5 452.5h0M664.5 460.5h0M665 453h0M665 456.5h0M665.5 462.5h0M666 459.5h0M666 464.5h0M666 466h0M666.5 455h0M667 463h0M667 464h0M668 463h0M668.5 461h0M669 453h0M669.5 450.5h0M669.5 456.5h0M670 452h0M670 459h0M672.5 454.5h0M674 452h0M674 456.5h0M675.5 455h0M676.5 452.5h0M676.5 456.5h0M677.5 456h0M678 452h0M678.5 450h0M678.5 457.5h0M680.5 456.5h0M681 449.5h0M681 451.5h0M681.5 450.5h0M682 449h0M682 454h0M682.5 448h0M682.5 460.5h0M683 455h0M683.5 459h0M684 460.5h0M684.5 457h0M685 459.5h0M685.5 452h0M685.5 453h0M688 459.5h0M688 463h0M688.5 453.5h0M688.5 458h0M689 455h0M689 462h0M690.5 454.5h0M692 458h0M692 462.5h0M693 464h0M693.5 457h0M694 458h0M695.5 465h0M696.5 460.5h0M698 462h0M698 465h0M699.5 462.5h0M700.5 466h0M700.5 467.5h0M702.5 465h0M702.5 467h0M703 468.5h0M703.5 470.5h0M704.5 463h0M704.5 473h0M705.5 469h0M705.5 472h0M706 466h0M708 467h0M708 471.5h0M708 474h0M709 463.5h0M709 468.5h0M709 473.5h0M710 464h0M710.5 472.5h0M711 460.5h0M711 462.5h0M711 466.5h0M712 451.5h0M712 456.5h0M712.5 471.5h0M713 451.5h0M713 456.5h0M713.5 452.5h0M713.5 462h0M713.5 469h0M714.5 450.5h0M714.5 461h0M714.5 468h0M715 449h0M715 464.5h0M715.5 447.5h0M716 448.5h0M716 455h0M716.5 451h0M716.5 457h0M717 469h0M717.5 460h0M717.5 470.5h0M718.5 459h0M718.5 464.5h0M719 468h0M720 460h0M720.5 468h0M721 469.5h0M722 463h0M723 468.5h0M723.5 465.5h0M724 471.5h0M724.5 467h0M724.5 469.5h0M726.5 465h0M727 474h0M727 479.5h0M727.5 477h0M728 469h0M728 481.5h0M728.5 472h0M728.5 476.5h0M728.5 480h0M728.5 484h0M729.5 465.5h0M730 467h0M730 484h0M730 487.5h0M730.5 487h0M731 479.5h0M731 482h0M731 485.5h0M731 486.5h0M731.5 463.5h0M731.5 486h0M732.5 464h0M732.5 466h0M732.5 469.5h0M732.5 477.5h0M733 465h0M733.5 468.5h0M733.5 473.5h0M733.5 475.5h0M734 464.5h0M734 481.5h0M734.5 472.5h0M735 474.5h0M735.5 475.5h0M736.5 481.5h0M737 480h0M738 473h0M738 476.5h0M740 474h0M740 480.5h0M741 474.5h0M742.5 479.5h0M743 481h0M743.5 479.5h0M744.5 475.5h0M745 473.5h0M747 480.5h0M748 478h0M748.5 472h0M748.5 473h0M748.5 480h0M749 474h0M749 478h0M752 475h0M752 476.5h0M752.5 436.3h0M752.5 442.4h0M752.5 442.5h0M752.5 443.5h0M753 445.5h0M753 446.5h0M753 447.5h0M753 449.5h0M753 452h0M753.5 449h0M753.5 454h0M753.5 459h0M754 457h0M754 462h0M754.5 453.5h0M754.5 464.5h0M754.5 466.5h0M755 463.5h0M755.5 466h0M756 453h0M756 458h0M756 460.5h0M756 474h0M756.5 465h0M757 475.5h0M757.5 460.5h0M757.5 465.5h0M758 477h0M758.5 463h0M759 461.5h0M759 466.5h0M759.5 471h0M759.5 472.5h0M759.5 476h0M760 475h0M761 472h0M762 473h0M762 474h0M763.5 468.5h0M763.5 474h0M765 471h0M766 470.5h0M767 472h0M767.5 469h0M767.5 470h0M768.5 470h0M768.5 472.5h0M770.5 470h0M770.5 471h0M771 474h0M773 473h0M774.5 472.5h0M774.5 475h0M775 470h0M775 471.5h0M775 473.5h0M776 476.5h0M776.5 477.5h0M777 473h0M779 479.5h0M779.5 475h0M780 481h0M781.5 480.5h0M782 476.5h0M782.5 480.5h0M783.5 475.5h0M784 477h0M784 481h0M784.5 478.5h0M786 476h0M786.5 475.5h0M787.5 473.5h0M787.5 477h0M788 475h0M788.5 471h0M789 472h0M790 474h0M791.5 467.5h0M791.5 471.5h0M792.5 464h0M792.5 467.5h0M793 464.5h0M793 471h0M794 471.5h0M794.5 464h0M795 473.5h0M796.5 463.5h0M796.5 470.5h0M797 462h0M797 463h0M797.5 466h0M797.5 472.5h0M798.5 467.5h0M798.5 470.5h0M798.5 472.5h0M799.5 468h0M801 472h0M803.5 468.5h0M804 470h0M804 471h0M804.5 472.5h0M805.5 471.5h0M806.5 469.5h0M808 470.5h0M808 472.5h0M809 470h0M810 472h0M812 472.5h0M812 475h0M813.5 475h0M814.5 476.5h0M815 474h0M816 473.5h0M817.5 475.5h0M817.5 478h0M820 476h0M820 478h0M821 473h0M822 473.5h0M822 477h0M822.5 472h0M823 478h0M824 470h0M824 474.5h0M824.5 475.5h0M824.5 476.5h0M825 469h0M826.5 477h0M827 470.5h0M828 470.5h0M828.5 473h0M829.5 476.5h0M831.5 476h0M832 474h0M832 477.5h0M832.5 472.5h0M834 476h0M834.5 477h0M835.5 474h0M835.5 478h0M838 475h0M838 477.5h0M839 473h0M839 478.5h0M839.5 477.5h0M841.5 472.5h0M842 469h0M842.5 477.5h0M843 469.5h0M843 471h0M844 476h0M844.5 472h0M845.5 475h0M845.5 476.5h0M847 471.5h0M849 476h0M849.5 474h0M851.5 477.5h0M853 472h0M853 473.5h0M854 477h0M854.5 475h0M855.5 478h0M856 474.5h0M856.5 473.5h0M858.5 477.5h0M859 475.5h0M859.5 477.5h0M860.5 475h0M863.5 476.5h0M864 478h0M864 479h0M864.5 475h0M865.5 478h0M867 478.5h0M867.5 481h0M870.5 480.5h0M870.5 481.5h0M871 483h0M872 482.5h0M873.5 484.5h0M874 482.5h0M875 482h0M875.5 484.5h0M876.5 483h0M877 485.5h0M879.5 485h0M880 482h0M880.5 486.5h0M881 485.5h0M881.5 483h0M882 473.5h0M882.5 477.5h0M882.5 484h0M883.5 473.5h0M883.5 478h0M884 470.5h0M884 474h0M884 478.5h0M884 482.5h0M884 484.5h0M884.5 463h0M884.5 466.5h0M885 475.5h0M885 479h0M885.5 460h0M885.5 466h0M885.5 469.5h0M885.5 471.5h0M886 451.5h0M886 456.5h0M886 463.5h0M887 446.5h0M887 452h0M887 456.5h0M887 459.5h0M887 466.5h0M887.5 443h0M887.5 454.5h0M888 446.5h0M888 449h0M888 452.5h0M888.5 438h0M888.5 439h0M889 420.5h0M889 444.5h0M889 456h0M889.4 433.1h0M889.5 411h0M889.5 433.5h0M889.5 434.5h0M889.5 435.5h0M889.5 440.5h0M889.5 449.5h0M890 416.5h0M890 437.5h0M890.5 402h0M890.5 406h0M890.5 411.5h0M890.5 419.5h0M890.5 423.5h0M891 391h0M891 396h0M891 416.5h0M891.5 373.4h0M891.5 400.5h0M891.5 403.5h0M891.5 408h0M891.5 413.5h0M891.5 423h0M892 386h0M892 389h0M892.5 384.5h0M892.5 385.5h0M892.5 386.5h0M892.5 387.5h0M892.5 392h0M892.5 395.5h0M892.5 401.5h0M893 388.5h0M893 390h0M893 397h0M893 424.5h0M893.5 393.5h0M893.5 399h0M893.5 409.5h0M894 403.5h0M894 420.5h0M894.5 407h0M895 402h0M895 414.5h0M895.5 405.5h0M895.5 412h0M896 438h0M896.5 422.5h0M896.5 435.5h0M897 408.5h0M897 414.5h0M897 425h0M897 435h0M897.5 413.5h0M897.5 433.5h0M897.5 438h0M898 411.5h0M898 417.5h0M898 422h0M898 425h0M898.5 432h0M898.5 433.5h0M899 426h0M899 431.5h0M899.4 430.6h0M899.5 419h0M899.5 422.5h0M899.5 439.5h0M900 417h0M900 434.5h0M900.5 432h0M900.5 442h0M901 438h0M901.5 434h0M901.5 439h0M901.5 445.5h0M902 441h0M902 445h0M902.5 451h0M903.5 448.5h0M904 444h0M904 457h0M904.5 451h0M905 454.5h0M905.5 447.5h0M905.5 451h0M905.5 456.5h0M906 450h0M906.5 457.5h0M907 446.5h0M907 452h0M907 455.5h0M908 456.5h0M908 458.5h0M908.5 450h0M910 456h0M911 447.5h0M911 457h0M912 444h0M912 448h0M912.5 441h0M913 453h0M913.5 441.5h0M913.5 446.5h0M914 443h0M914 446h0M914.5 460.5h0M915 453h0M915 456h0M916 458h0M916.5 451.5h0M917 457.5h0M917 468h0M917.5 464.5h0M917.5 467.5h0M918 461.5h0M918.5 447h0M918.5 449h0M918.5 458.5h0M920 457h0M920.5 448h0M920.5 453h0M921.5 448.5h0M922 457h0M922.5 452.5h0M924.5 452h0M925.5 459.5h0M926 455h0M926 457h0M926 458.5h0M928 455h0M928.5 459h0M929.5 458.5h0M930 457h0M932.5 458.5h0M933.5 461h0M934.5 461h0M934.5 463.5h0M934.5 467h0M935 460h0M935 462.5h0M936 463h0M936.5 466.5h0M936.5 469.5h0M937 463h0M937 465h0M937 473h0M937.5 470h0M937.5 476.5h0M938 462.5h0M938 472.5h0M938.5 475h0M938.5 476.5h0M939 461h0M939.5 462.5h0M939.5 468.5h0M939.5 475.5h0M940 464.5h0M940 465.5h0M940 470h0M940 476.5h0M940.5 474h0" fill="none" stroke="#000" stroke-width="5.56" stroke-linecap="round"/>
<path d="M120.7 130.2L121.1 129.1L121.5 127.5L121.9 126.4L122.3 125.8L122.7 124.9L123.1 125.4L123.5 125.4L123.9 126.5L124.3 127.7L124.7 128.7L125.1 130.1L125.5 130.2L125.9 130.4L126.3 129.3L126.7 128.2L127.1 127L127.5 125.6L127.9 125.2L128.3 124.1L128.7 124L129.1 123.4L129.5 122.9L129.9 122.7L130.3 121.9L130.7 122.4L131.1 122.2L131.5 123L131.9 123.5L132.3 123.7L132.7 124.3L133.1 123.9L133.5 124.1L133.9 123.5L134.3 123.2L134.7 122.8L135.1 121.8L135.5 121.5L135.9 120.5L136.3 120.6L136.7 120.7L137.1 121.7L137.5 123.6L137.9 125.2L138.3 127.7L138.7 129.1L139.1 130.8L139.5 131.8L139.9 132.3L140.3 133L140.7 132.7L141.1 133.1L141.5 132.6L141.9 132.4L142.3 132.2L142.7 131.6L143.1 132L143.5 131.5L143.9 131.9L144.3 131.7L144.7 131.6L145.1 131.8L145.5 131.4L145.9 132.1L146.3 132.4L146.7 133.8L147.1 137.3L147.5 140.4L147.9 143.7L148.3 145.6L148.7 148L149.1 149.6L149.5 151.6L149.9 154L150.3 156L150.7 158.9L151.1 160.6L151.5 162.8L151.9 164.1L152.3 165.3L152.7 166.8L153.1 167.6L153.5 169.7L153.9 171.2L154.3 173.7L154.7 176.4L155.1 179.3L155.5 183.3L155.9 186.7L156.3 191.1L156.7 194.4L157.1 197.5L157.5 200.1L157.9 201.5L158.3 203.4L158.7 204.3L159.1 206.2L159.5 208L159.9 209.7L160.3 211.9L160.7 213.3L161.1 215.6L161.5 217.2L161.9 219.4L162.3 221.8L162.7 224.2L163.1 227.4L163.5 229.8L163.9 232.9L164.3 235.2L164.7 237.5L165.1 239.9L165.5 241.5L165.9 243.8L166.3 245L166.7 246.9L167.1 248.3L167.5 249.9L167.9 252.3L168.3 254.5L168.7 258.4L169.1 262L169.5 266.4L169.9 270.8L170.3 274.5L170.7 278.6L171.1 281.4L171.5 284.6L171.9 287L172.3 289.3L172.7 291.3L173.1 291L173.5 291.5L173.9 291L174.3 291.3L174.7 291.5L175.1 291.6L175.5 292.3L175.9 292.1L176.3 292.8L176.7 292.6L177.1 293.1L177.5 293.8L177.9 294.5L178.3 296.2L178.7 296.9L179.1 298.2L179.5 298.5L179.9 298.5L180.3 298.4L180.7 297.6L181.1 297.7L181.5 297.2L181.9 297.6L182.3 297.6L182.7 297.3L183.1 297.1L183.5 295.8L183.9 295.2L184.3 293.7L184.7 292.9L185.1 292.3L185.5 291.6L185.9 292.2L186.3 292.3L186.7 293.7L187.1 294.9L187.5 296.6L187.9 298.5L188.3 299.4L188.7 300.7L189.1 300.3L189.5 300.1L189.9 299.3L190.3 298.2L190.7 298L191.1 297.2L191.5 297.5L191.9 297.2L192.3 297.3L192.7 297.4L193.1 297.1L193.5 297.8L193.9 297.8L194.3 299L194.7 299.8L195.1 300.7L195.5 301.8L195.9 302L196.3 302.9L196.7 302.7L197.1 303L197.5 303L197.9 302.5L198.3 302.6L198.7 301.8L199.1 302L199.5 302L199.9 302.9L200.3 304.7L200.7 306.4L201.1 309.3L201.5 311.2L201.9 313.6L202.3 315.2L202.7 316.3L203.1 317.5L203.5 317.7L203.9 318.7L204.3 318.5L204.7 318.8L205.1 318.9L205.5 318.7L205.9 319.3L206.3 319L206.7 319.8L207.1 320L207.5 320.3L207.9 320.8L208.3 320.7L208.7 321.6L209.1 321.9L209.5 323.3L209.9 324.5L210.3 325.6L210.7 326.9L211.1 326.9L211.5 327.4L211.9 326.7L212.3 326.5L212.7 326.4L213.1 326.1L213.5 326.8L213.9 326.4L214.3 326.7L214.7 325.9L215.1 325.1L215.5 324.3L215.9 322.9L216.3 322.5L216.7 321.5L217.1 321.6L217.5 321.7L217.9 322.2L218.3 323.6L218.7 324.6L219.1 326.7L219.5 328L219.9 329.4L220.3 330.1L220.7 329.8L221.1 329.7L221.5 328.3L221.9 327.9L222.3 327.1L222.7 326.8L223.1 326.9L223.5 326.5L223.9 327L224.3 326.5L224.7 326L225.1 324.2L225.5 322.7L225.9 321.9L226.3 320.5L226.7 320L227.1 318.5L227.5 317.3L227.9 315.8L228.3 313.8L228.7 312.4L229.1 309.9L229.5 308.1L229.9 305.6L230.3 303.3L230.7 301.5L231.1 299.5L231.5 299.1L231.9 298.4L232.3 299L232.7 299.4L233.1 299.7L233.5 300.2L233.9 299.4L234.3 299.2L234.7 297.8L235.1 296.6L235.5 295.2L235.9 293.2L236.3 291.9L236.7 289.5L237.1 288.1L237.5 286.1L237.9 284.5L238.3 283.3L238.7 281.4L239.1 280.3L239.5 278.3L239.9 277L240.3 275.6L240.7 274.3L241.1 274L241.5 273L241.9 272.8L242.3 271.5L242.7 270.1L243.1 268.4L243.5 265.8L243.9 264.1L244.3 261.6L244.7 260.1L245.1 258.3L245.5 256.4L245.9 254.7L246.3 251.8L246.7 249.5L247.1 246.2L247.5 243.6L247.9 240.9L248.3 238.3L248.7 236.7L249.1 234.5L249.5 233.8L249.9 232.7L250.3 232.5L250.7 234.1L251.1 236.3L251.5 239L251.9 240.1L252.3 241.4L252.7 241.7L253.1 241.8L253.5 242.3L253.9 242.3L254.3 243.6L254.7 244.2L255.1 245.4L255.5 246.5L255.9 247.2L256.3 248.7L256.7 249.5L257.1 251.6L257.5 253.2L257.9 255.3L258.3 257.4L258.7 258.9L259.1 260.9L259.5 261.8L259.9 263.3L260.3 264.3L260.7 265.1L261.1 266.2L261.5 266.4L261.9 267.6L262.3 268.2L262.7 269.9L263.1 272L263.5 274.6L263.9 278.3L264.3 281.3L264.7 285.1L265.1 287.9L265.5 290.6L265.9 293L266.3 294.5L266.7 296.6L267.1 297.6L267.5 299.2L267.9 300.2L268.3 301.2L268.7 302.7L269.1 303.4L269.5 305.3L269.9 306.4L270.3 308L270.7 309.4L271.1 310.5L271.5 312.3L271.9 313.4L272.3 315.7L272.7 317.7L273.1 320.1L273.5 322.6L273.9 324.1L274.3 325.9L274.7 326.4L275.1 327.5L275.5 328.1L275.9 328.9L276.3 330.4L276.7 330.5L277.1 331.2L277.5 330.7L277.9 330.4L278.3 329.7L278.7 328.5L279.1 328.1L279.5 327L279.9 327L280.3 326.8L280.7 327.2L281.1 328.3L281.5 329.2L281.9 331.4L282.3 332.8L282.7 334.8L283.1 335.9L283.5 336.3L283.9 336.6L284.3 335.6L284.7 335.3L285.1 334.3L285.5 334.1L285.9 334.1L286.3 333.8L286.7 334.4L287.1 334L287.5 334.5L287.9 334.5L288.3 334.9L288.7 335.9L289.1 336.5L289.5 338.1L289.9 338.7L290.3 339.8L290.7 340.4L291.1 340.6L291.5 341.3L291.9 340.9L292.3 341.4L292.7 340.9L293.1 340.7L293.5 340.7L293.9 340.4L294.3 341.5L294.7 342.4L295.1 344.7L295.5 347L295.9 349.5L296.3 352.1L296.7 353.8L297.1 355.9L297.5 356.7L297.9 357.8L298.3 358.5L298.7 358.8L299.1 359.5L299.5 359.2L299.9 359.8L300.3 359.7L300.7 360.1L301.1 360.7L301.5 360.9L301.9 361.9L302.3 361.8L302.7 362.6L303.1 362.9L303.5 363.5L303.9 364.8L304.3 365.7L304.7 367.7L305.1 368.6L305.5 369.7L305.9 370.1L306.3 369.8L306.7 370L307.1 369.3L307.5 369.8L307.9 369.8L308.3 370.1L308.7 370.4L309.1 369.9L309.5 369.9L309.9 368.6L310.3 368L310.7 367L311.1 366.3L311.5 366.3L311.9 366L312.3 366.9L312.7 367.5L313.1 369.1L313.5 370.8L313.9 372.4L314.3 374.4L314.7 375.1L315.1 376L315.5 375.5L315.9 375L316.3 374.4L316.7 373.4L317.1 373.5L317.5 373L317.9 373.4L318.3 373.4L318.7 373.4L319.1 373.8L319.5 373.6L319.9 374.5L320.3 374.9L320.7 376.2L321.1 377.3L321.5 378L321.9 379.3L322.3 379.4L322.7 380.2L323.1 380.2L323.5 380.3L323.9 380.5L324.3 379.9L324.7 380.1L325.1 379.5L325.5 380L325.9 380.7L326.3 382L326.7 384.3L327.1 386.3L327.5 389.4L327.9 391.4L328.3 393.5L328.7 395.2L329.1 396.2L329.5 397.5L329.9 397.8L330.3 398.7L330.7 398.8L331.1 399.1L331.5 399.5L331.9 399.4L332.3 400.3L332.7 400.4L333.1 401.3L333.5 401.8L333.9 402.1L334.3 402.9L334.7 403L335.1 404.2L335.5 405L335.9 406.6L336.3 408.2L336.7 409.2L337.1 410.5L337.5 410.4L337.9 410.8L338.3 410.4L338.7 410.3L339.1 410.7L339.5 410.6L339.9 411.4L340.3 411.1L340.7 411.2L341.1 410.7L341.5 409.7L341.9 409.2L342.3 407.9L342.7 407.9L343.1 407.3L343.5 407.6L343.9 408.3L344.3 409.1L344.7 411L345.1 412.3L345.5 414.5L345.9 415.9L346.3 417L346.7 417.7L347.1 417L347.5 416.9L347.9 415.8L348.3 415.5L348.7 415.2L349.1 415L349.5 415.5L349.9 415.2L350.3 415.8L350.7 415.6L351.1 416L351.5 416.7L351.9 417.3L352.3 418.8L352.7 419.5L353.1 420.9L353.5 421.5L353.9 422.1L354.3 422.7L354.7 422.7L355.1 423.3L355.5 423L355.9 423.2L356.3 423L356.7 422.8L357.1 423.5L357.5 424L357.9 426.1L358.3 428L358.7 430.7L359.1 433.5L359.5 435.6L359.9 438.1L360.3 439.3L360.7 440.9L361.1 441.7L361.5 442.3L361.9 443.2L362.3 443.2L362.7 443.9L363.1 443.8L363.5 444.4L363.9 444.9L364.3 445.3L364.7 446.3L365.1 446.4L365.5 447.4L365.9 447.6L366.3 448.3L366.7 449.4L367.1 450.3L367.5 452.2L367.9 453.2L368.3 454.7L368.7 455.4L369.1 455.5L369.5 455.8L369.9 455.1L370.3 455.5L370.7 455.2L371.1 455.7L371.5 456L371.9 455.8L372.3 456L372.7 454.9L373.1 454.5L373.5 453.3L373.9 452.6L374.3 452.3L374.7 451.7L375.1 452.4L375.5 452.6L375.9 454L376.3 455.4L376.7 457L377.1 459.2L377.5 460.3L377.9 461.7L378.3 461.6L378.7 461.5L379.1 460.9L379.5 459.9L379.9 459.8L380.3 459L380.7 459.3L381.1 459L381.5 458.9L381.9 459L382.3 458.6L382.7 459.2L383.1 459.2L383.5 460.2L383.9 461L384.3 461.8L384.7 462.9L385.1 463L385.5 463.8L385.9 463.6L386.3 463.9L386.7 463.8L387.1 463.3L387.5 463.4L387.9 462.4L388.3 462.6L388.7 462.5L389.1 463.3L389.5 465L389.9 466.6L390.3 469.4L390.7 471.4L391.1 473.8L391.5 475.4L391.9 476.5L392.3 477.7L392.7 477.9L393.1 478.8L393.5 478.7L393.9 478.9L394.3 479L394.7 478.7L395.1 479.3L395.5 479L395.9 479.7L396.3 479.9L396.7 480.1L397.1 480.6L397.5 480.4L397.9 481.3L398.3 481.5L398.7 482.8L399.1 484L399.5 485L399.9 486.4L400.3 486.4L400.7 486.9L401.1 486.2L401.5 485.9L401.9 485.8L402.3 485.4L402.7 486L403.1 485.6L403.5 485.8L403.9 485.1L404.3 484.2L404.7 483.4L405.1 481.9L405.5 481.5L405.9 480.4L406.3 480.2L406.7 479.8L407.1 479.7L407.5 480.6L407.9 481.1L408.3 482.7L408.7 483.6L409.1 484.5L409.5 484.9L409.9 484.1L410.3 483.6L410.7 481.8L411.1 480.8L411.5 479.5L411.9 478.7L412.3 478.4L412.7 477.4L413.1 477.4L413.5 476.5L413.9 476.2L414.3 476L414.7 475.8L415.1 476.5L415.5 476.5L415.9 477.4L416.3 477.4L416.7 477.6L417.1 477.6L417.5 477L417.9 477.1L418.3 476L418.7 475.7L419.1 474.7L419.5 473.8L419.9 473.5L420.3 472.8L420.7 473.7L421.1 474.5L421.5 476.4L421.9 478.3L422.3 480L422.7 482L423.1 482.8L423.5 484L423.9 484.1L424.3 484.4L424.7 484.5L425.1 484L425.5 484.1L425.9 483.2L426.3 483.1L426.7 482.7L427.1 482.4L427.5 482.6L427.9 482.1L428.3 482.5L428.7 481.9L429.1 481.9L429.5 481.9L429.9 482L430.3 483L430.7 483.4L431.1 484.6L431.5 484.8L431.9 484.9L432.3 484.6L432.7 483.3L433.1 482.9L433.5 481.7L433.9 481.5L434.3 481L434.7 480.4L435.1 480.1L435.5 478.5L435.9 477.6L436.3 475.7L436.7 474.3L437.1 472.9L437.5 471.5L437.9 471.2L438.3 470.4L438.7 470.8L439.1 471.1L439.5 472L439.9 473.4L440.3 474L440.7 475.2L441.1 474.8L441.5 474.6L441.9 473.3L442.3 471.8L442.7 470.7L443.1 469.1L443.5 468.7L443.9 467.7L444.3 467.4L444.7 466.8L445.1 465.9L445.5 465.9L445.9 465.1L446.3 465.6L446.7 465.6L447.1 466.1L447.5 466.8L447.9 466.6L448.3 467.1L448.7 466.5L449.1 466.5L449.5 465.9L449.9 465.1L450.3 464.7L450.7 463.4L451.1 463L451.5 462L451.9 462L452.3 462.6L452.7 463.4L453.1 465.6L453.5 467L453.9 469.2L454.3 470.5L454.7 471.6L455.1 472.5L455.5 472.5L455.9 473L456.3 472.5L456.7 472.5L457.1 472.1L457.5 471.4L457.9 471.3L458.3 470.5L458.7 470.7L459.1 470.1L459.5 470.1L459.9 469.9L460.3 469.3L460.7 469.5L461.1 468.9L461.5 469.5L461.9 469.9L462.3 470.6L462.7 471.5L463.1 471.4L463.5 471.7L463.9 470.7L464.3 470L464.7 469.1L465.1 468.2L465.5 468L465.9 467.2L466.3 467.1L466.7 466L467.1 465L467.5 463.7L467.9 461.7L468.3 460.6L468.7 458.7L469.1 458L469.5 457.1L469.9 456.7L470.3 457.1L470.7 457.2L471.1 458.7L471.5 459.4L471.9 460.6L472.3 461.2L472.7 461L473.1 460.7L473.5 459L473.9 458L474.3 456.4L474.7 455.3L475.1 454.7L475.5 453.7L475.9 453.6L476.3 452.5L476.7 452.3L477.1 451.6L477.5 451.3L477.9 451.6L478.3 451.5L478.7 452.4L479.1 452.3L479.5 452.7L479.9 452.7L480.3 452.2L480.7 452.2L481.1 451.2L481.5 451L481.9 449.9L482.3 449L482.7 448.3L483.1 447.3L483.5 447.7L483.9 447.8L484.3 449.5L484.7 451.3L485.1 453.3L485.5 455.6L485.9 456.8L486.3 458.6L486.7 459L487.1 459.7L487.5 460L487.9 459.8L488.3 460.2L488.7 459.5L489.1 459.6L489.5 459.1L489.9 459.1L490.3 459.3L490.7 459L491.1 459.5L491.5 459.1L491.9 459.4L492.3 459.3L492.7 459.4L493.1 460.3L493.5 460.7L493.9 462.2L494.3 462.7L494.7 463.4L495.1 463.4L495.5 462.7L495.9 462.5L496.3 461.4L496.7 461.4L497.1 460.9L497.5 460.8L497.9 460.7L498.3 459.7L498.7 459.2L499.1 457.5L499.5 456.4L499.9 455L500.3 453.7L500.7 453.3L501.1 452.3L501.5 452.8L501.9 452.8L502.3 453.8L502.7 455.1L503.1 456.2L503.5 457.8L503.9 458L504.3 458.5L504.7 457.7L505.1 456.7L505.5 455.7L505.9 454.1L506.3 453.8L506.7 452.8L507.1 452.7L507.5 452.3L507.9 451.7L508.3 451.7L508.7 450.9L509.1 451.4L509.5 451.3L509.9 452L510.3 452.8L510.7 453.2L511.1 454.1L511.5 453.9L511.9 454.3L512.3 454L512.7 453.8L513.1 453.7L513.5 452.7L513.9 452.6L514.3 451.7L514.7 451.7L515.1 452L515.5 452.8L515.9 454.8L516.3 456.4L516.7 459.1L517.1 460.8L517.5 462.6L517.9 464L518.3 464.5L518.7 465.5L519.1 465.4L519.5 465.9L519.9 465.7L520.3 465.5L520.7 465.6L521.1 465L521.5 465.5L521.9 465.2L522.3 465.6L522.7 465.7L523.1 465.6L523.5 465.9L523.9 465.4L524.3 466L524.7 466.3L525.1 467.2L525.5 468.3L525.9 468.8L526.3 469.7L526.7 469.1L527.1 468.9L527.5 468L527.9 467.3L528.3 467.1L528.7 466.5L529.1 466.8L529.5 466L529.9 465.6L530.3 464.5L530.7 463L531.1 462L531.5 460.2L531.9 459.6L532.3 458.5L532.7 458.2L533.1 458.3L533.5 458.4L533.9 459.8L534.3 460.6L534.7 462.2L535.1 463.2L535.5 463.8L535.9 464L536.3 463L536.7 462.4L537.1 460.9L537.5 460.1L537.9 459.4L538.3 458.7L538.7 458.8L539.1 458L539.5 458.1L539.9 457.6L540.3 457.4L540.7 457.7L541.1 457.8L541.5 458.9L541.9 459.1L542.3 460L542.7 460.3L543.1 460.4L543.5 460.7L543.9 460.1L544.3 460.3L544.7 459.5L545.1 459.1L545.5 458.5L545.9 457.7L546.3 457.9L546.7 457.8L547.1 459.2L547.5 460.6L547.9 462.7L548.3 465.1L548.7 466.7L549.1 468.7L549.5 469.4L549.9 470.4L550.3 470.8L550.7 470.9L551.1 471.3L551.5 470.7L551.9 471L552.3 470.3L552.7 470.3L553.1 470.3L553.5 470.1L553.9 470.6L554.3 470.2L554.7 470.6L555.1 470.4L555.5 470.4L555.9 471L556.3 471.3L556.7 472.7L557.1 473.3L557.5 474.4L557.9 474.7L558.3 474.4L558.7 474.3L559.1 473.2L559.5 473.1L559.9 472.4L560.3 472.4L560.7 472.3L561.1 471.7L561.5 471.5L561.9 470L562.3 468.8L562.7 466.9L563.1 465.3L563.5 464.2L563.9 462.8L564.3 462.6L564.7 461.9L565.1 462.5L565.5 463L565.9 463.8L566.3 465.2L566.7 465.5L567.1 466.2L567.5 465.5L567.9 464.6L568.3 463.2L568.7 461.4L569.1 460.5L569.5 458.9L569.9 458.5L570.3 457.6L570.7 456.9L571.1 456.5L571.5 455.4L571.9 455.3L572.3 454.7L572.7 455L573.1 455.2L573.5 455.3L573.9 455.9L574.3 455.4L574.7 455.7L575.1 454.9L575.5 454.5L575.9 453.9L576.3 452.7L576.7 452.2L577.1 450.7L577.5 450.2L577.9 449.4L578.3 449.5L578.7 450.5L579.1 451.4L579.5 453.6L579.9 455L580.3 456.7L580.7 457.8L581.1 458.3L581.5 459.1L581.9 458.6L582.3 458.9L582.7 458.3L583.1 457.9L583.5 457.4L583.9 456.4L584.3 456.4L584.7 455.5L585.1 455.5L585.5 455.1L585.9 454.7L586.3 454.7L586.7 453.8L587.1 454L587.5 453.7L587.9 454.2L588.3 454.7L588.7 455L589.1 455.7L589.5 455.1L589.9 454.9L590.3 453.6L590.7 452.5L591.1 451.6L591.5 450.5L591.9 450.3L592.3 449.2L592.7 448.7L593.1 447.4L593.5 445.8L593.9 444.3L594.3 442.1L594.7 440.9L595.1 439L595.5 438.2L595.9 437.5L596.3 437L596.7 437.6L597.1 437.7L597.5 439L597.9 439.6L598.3 440.2L598.7 440.5L599.1 439.4L599.5 438.7L599.9 436.6L600.3 435.3L600.7 433.8L601.1 432.6L601.5 432.2L601.9 431.1L602.3 430.9L602.7 429.8L603.1 429.4L603.5 429L603.9 428.5L604.3 429.1L604.7 428.9L605.1 429.7L605.5 429.7L605.9 429.7L606.3 429.6L606.7 428.8L607.1 428.8L607.5 427.6L607.9 427.1L608.3 426L608.7 424.9L609.1 424.4L609.5 423.5L609.9 424.2L610.3 424.7L610.7 426.4L611.1 428.2L611.5 429.7L611.9 431.6L612.3 432.3L612.7 433.3L613.1 433.4L613.5 433.5L613.9 433.6L614.3 433.2L614.7 433.5L615.1 432.9L615.5 432.9L615.9 432.7L616.3 432.6L616.7 433L617.1 432.7L617.5 433.2L617.9 432.8L618.3 433L618.7 433.2L619.1 433.4L619.5 434.6L619.9 435.1L620.3 436.5L620.7 437.1L621.1 437.3L621.5 437.3L621.9 436.3L622.3 436.2L622.7 435.3L623.1 435.3L623.5 435.1L623.9 434.8L624.3 434.8L624.7 433.5L625.1 432.9L625.5 431.3L625.9 430.1L626.3 429.1L626.7 427.9L627.1 427.9L627.5 427.3L627.9 428.1L628.3 428.7L628.7 429.9L629.1 431.7L629.5 432.7L629.9 434.3L630.3 434.4L630.7 434.5L631.1 433.7L631.5 432.5L631.9 431.8L632.3 430.6L632.7 430.5L633.1 429.9L633.5 429.8L633.9 429.7L634.3 429.1L634.7 429.4L635.1 429L635.5 429.7L635.9 430.1L636.3 430.8L636.7 431.9L637.1 432L637.5 432.9L637.9 432.7L638.3 432.9L638.7 432.8L639.1 432.3L639.5 432.3L639.9 431.3L640.3 431.2L640.7 430.6L641.1 430.8L641.5 431.7L641.9 432.8L642.3 435.2L642.7 437L643.1 439.6L643.5 441.3L643.9 442.7L644.3 444.1L644.7 444.4L645.1 445.4L645.5 445.2L645.9 445.6L646.3 445.5L646.7 445.2L647.1 445.5L647.5 445L647.9 445.5L648.3 445.5L648.7 445.8L649.1 446.1L649.5 445.8L649.9 446.4L650.3 446.3L650.7 447.2L651.1 448L651.5 449L651.9 450.5L652.3 450.8L652.7 451.6L653.1 451L653.5 450.7L653.9 450.2L654.3 449.6L654.7 449.8L655.1 449.4L655.5 449.7L655.9 449.1L656.3 448.4L656.7 447.6L657.1 446L657.5 445.3L657.9 443.8L658.3 443.4L658.7 442.9L659.1 442.8L659.5 443.6L659.9 444L660.3 445.8L660.7 446.9L661.1 448.5L661.5 449.6L661.9 449.8L662.3 450L662.7 448.7L663.1 448.1L663.5 446.8L663.9 446.1L664.3 445.8L664.7 445.2L665.1 445.5L665.5 444.8L665.9 444.9L666.3 444.6L666.7 444.6L667.1 445.3L667.5 445.5L667.9 446.8L668.3 447.2L668.7 447.9L669.1 448.4L669.5 448.2L669.9 448.7L670.3 448.1L670.7 448.2L671.1 447.5L671.5 447L671.9 446.7L672.3 446L672.7 446.7L673.1 447.1L673.5 448.9L673.9 450.9L674.3 453L674.7 455.5L675.1 456.9L675.5 458.8L675.9 459.5L676.3 460.3L676.7 460.8L677.1 460.8L677.5 461.3L677.9 460.7L678.3 461L678.7 460.7L679.1 460.6L679.5 460.8L679.9 460.5L680.3 461.1L680.7 460.7L681.1 460.9L681.5 460.9L681.9 460.9L682.3 461.9L682.7 462.2L683.1 463.7L683.5 464.3L683.9 465L684.3 465.3L684.7 464.6L685.1 464.4L685.5 463.3L685.9 463.3L686.3 462.8L686.7 462.7L687.1 462.7L687.5 461.8L687.9 461.4L688.3 459.8L688.7 458.8L689.1 457.5L689.5 456.2L689.9 455.8L690.3 454.8L690.7 455.3L691.1 455.3L691.5 456.3L691.9 457.7L692.3 458.9L692.7 460.7L693.1 461.2L693.5 461.9L693.9 461.4L694.3 460.5L694.7 459.7L695.1 458.3L695.5 458L695.9 457.2L696.3 457.2L696.7 457L697.1 456.5L697.5 456.7L697.9 456.1L698.3 456.6L698.7 456.8L699.1 457.5L699.5 458.5L699.9 458.8L700.3 459.9L700.7 459.7L701.1 460.2L701.5 460L701.9 459.8L702.3 459.7L702.7 458.8L703.1 458.8L703.5 457.8L703.9 457.8L704.3 458.1L704.7 458.8L705.1 460.7L705.5 462.2L705.9 464.7L706.3 466.4L706.7 468.1L707.1 469.5L707.5 470L707.9 471L708.3 470.8L708.7 471.2L709.1 470.9L709.5 470.6L709.9 470.6L710.3 469.9L710.7 470.3L711.1 469.9L711.5 470.2L711.9 470.3L712.3 470L712.7 470.4L713.1 469.9L713.5 470.6L713.9 470.9L714.3 471.8L714.7 473L715.1 473.5L715.5 474.4L715.9 474L716.3 473.9L716.7 473.1L717.1 472.3L717.5 472.2L717.9 471.6L718.3 471.9L718.7 471.3L719.1 470.9L719.5 470.1L719.9 468.6L720.3 467.7L720.7 466L721.1 465.3L721.5 464.4L721.9 464L722.3 464.3L722.7 464.3L723.1 465.7L723.5 466.6L723.9 468.3L724.3 469.4L724.7 470.1L725.1 470.6L725.5 469.6L725.9 469L726.3 467.5L726.7 466.6L727.1 465.9L727.5 465.1L727.9 465.3L728.3 464.5L728.7 464.6L729.1 464L729.5 463.8L729.9 464.1L730.3 464L730.7 465.1L731.1 465.4L731.5 466.3L731.9 466.7L732.3 466.7L732.7 467.1L733.1 466.5L733.5 466.7L733.9 465.9L734.3 465.5L734.7 464.9L735.1 464L735.5 464.2L735.9 464L736.3 465.4L736.7 466.8L737.1 468.8L737.5 471.2L737.9 472.8L738.3 474.9L738.7 475.7L739.1 476.7L739.5 477.2L739.9 477.3L740.3 477.8L740.7 477.2L741.1 477.5L741.5 476.9L741.9 476.8L742.3 476.9L742.7 476.6L743.1 477.2L743.5 476.9L743.9 477.2L744.3 477L744.7 477L745.1 477.6L745.5 477.8L745.9 479.2L746.3 479.8L746.7 480.9L747.1 481.3L747.5 481.1L747.9 481L748.3 479.9L748.7 479.7L749.1 479L749.5 478.9L749.9 479L750.3 478.3L750.7 478.2L751.1 476.7L751.5 475.8L751.9 474.3L752.3 473L752.7 472.3L753.1 471.1L753.5 471.3L753.9 471L754.3 471.7L754.7 472.7L755.1 473.8L755.5 475.6L755.9 476.3L756.3 477.4L756.7 477.1L757.1 476.5L757.5 475.6L757.9 474L758.3 473.3L758.7 472.1L759.1 471.9L759.5 471.4L759.9 470.9L760.3 470.8L760.7 470L761.1 470.2L761.5 469.8L761.9 470.4L762.3 470.9L762.7 471.3L763.1 472.3L763.5 472.1L763.9 472.6L764.3 472.2L764.7 472L765.1 471.9L765.5 471L765.9 470.8L766.3 469.6L766.7 469.3L767.1 468.9L767.5 469.1L767.9 470.4L768.3 471.5L768.7 474L769.1 475.7L769.5 477.7L769.9 479.3L770.3 480L770.7 481.2L771.1 481.1L771.5 481.7L771.9 481.4L772.3 481.2L772.7 481.2L773.1 480.5L773.5 480.7L773.9 480.1L774.3 480.4L774.7 480.4L775.1 480.3L775.5 480.6L775.9 480L776.3 480.5L776.7 480.4L777.1 481.2L777.5 482.2L777.9 482.9L778.3 484L778.7 483.9L779.1 484.1L779.5 483.3L779.9 482.6L780.3 482.2L780.7 481.4L781.1 481.7L781.5 481L781.9 481L782.3 480.2L782.7 478.9L783.1 477.8L783.5 475.9L783.9 475L784.3 473.5L784.7 472.8L785.1 472.5L785.5 472.2L785.9 473.1L786.3 473.5L786.7 475.1L787.1 476.1L787.5 477L787.9 477.7L788.3 477.1L788.7 476.7L789.1 475.1L789.5 474L789.9 472.8L790.3 471.8L790.7 471.6L791.1 470.6L791.5 470.6L791.9 469.8L792.3 469.5L792.7 469.3L793.1 468.9L793.5 469.7L793.9 469.7L794.3 470.6L794.7 470.8L795.1 470.9L795.5 471.2L795.9 470.5L796.3 470.6L796.7 469.7L797.1 469.3L797.5 468.5L797.9 467.4L798.3 467.1L798.7 466.3L799.1 467L799.5 467.7L799.9 469.3L800.3 471.4L800.7 473L801.1 475.1L801.5 476L801.9 477.2L802.3 477.6L802.7 477.7L803.1 478L803.5 477.4L803.9 477.6L804.3 476.8L804.7 476.6L805.1 476.2L805.5 475.8L805.9 476.1L806.3 475.5L806.7 475.9L807.1 475.4L807.5 475.2L807.9 475.3L808.3 475.2L808.7 476.2L809.1 476.6L809.5 477.9L809.9 478.3L810.3 478.4L810.7 478.4L811.1 477.3L811.5 477L811.9 476L812.3 475.8L812.7 475.5L813.1 475L813.5 474.9L813.9 473.6L814.3 472.9L814.7 471.2L815.1 469.8L815.5 468.6L815.9 467.2L816.3 467L816.7 466.2L817.1 466.6L817.5 467L817.9 467.9L818.3 469.4L818.7 470.2L819.1 471.7L819.5 471.6L819.9 471.6L820.3 470.7L820.7 469.2L821.1 468.3L821.5 466.8L821.9 466.4L822.3 465.6L822.7 465.3L823.1 465L823.5 464.2L823.9 464.2L824.3 463.5L824.7 463.9L825.1 464.1L825.5 464.6L825.9 465.4L826.3 465.4L826.7 466.1L827.1 465.7L827.5 465.6L827.9 465.4L828.3 464.6L828.7 464.4L829.1 463.2L829.5 462.8L829.9 461.9L830.3 461.8L830.7 462.4L831.1 463.1L831.5 465.3L831.9 466.8L832.3 469.1L832.7 470.8L833.1 471.9L833.5 473.1L833.9 473.2L834.3 473.9L834.7 473.6L835.1 473.6L835.5 473.3L835.9 472.6L836.3 472.6L836.7 471.8L837.1 472L837.5 471.7L837.9 471.6L838.3 471.7L838.7 471.1L839.1 471.4L839.5 471L839.9 471.5L840.3 472.1L840.7 472.7L841.1 473.9L841.5 473.9L841.9 474.5L842.3 473.7L842.7 473.1L843.1 472.4L843.5 471.4L843.9 471.4L844.3 470.6L844.7 470.6L845.1 469.8L845.5 468.9L845.9 467.8L846.3 465.9L846.7 464.9L847.1 463.2L847.5 462.4L847.9 461.6L848.3 461.2L848.7 461.7L849.1 461.8L849.5 463.3L849.9 464.2L850.3 465.5L850.7 466.5L851.1 466.4L851.5 466.5L851.9 465L852.3 464.1L852.7 462.6L853.1 461.5L853.5 461.1L853.9 460.1L854.3 460.2L854.7 459.3L855.1 459L855.5 458.6L855.9 458.2L856.3 458.7L856.7 458.5L857.1 459.5L857.5 459.7L857.9 460.2L858.3 460.5L858.7 460.1L859.1 460.3L859.5 459.4L859.9 459.3L860.3 458.4L860.7 457.6L861.1 457.1L861.5 456.1L861.9 456.5L862.3 456.7L862.7 458.1L863.1 459.9L863.5 461.6L863.9 464L864.3 465.2L864.7 466.9L865.1 467.4L865.5 468L865.9 468.4L866.3 468L866.7 468.4L867.1 467.6L867.5 467.6L867.9 467.1L868.3 466.8L868.7 467L869.1 466.5L869.5 467L869.9 466.5L870.3 466.6L870.7 466.5L871.1 466.3L871.5 467.1L871.9 467.3L872.3 468.7L872.7 469.2L873.1 469.8L873.5 470L873.9 469.2L874.3 468.9L874.7 467.6L875.1 467.4L875.5 466.8L875.9 466.4L876.3 466.4L876.7 465.4L877.1 464.9L877.5 463.2L877.9 461.9L878.3 460.5L878.7 458.9L879.1 458.4L879.5 457.2L879.9 457.4L880.3 457.4L880.7 458.1L881.1 459.3L881.5 460.1L881.9 461.8L882.3 462.1L882.7 462.6L883.1 461.9L883.5 460.7L883.9 459.8L884.3 458L884.7 457.5L885.1 456.4L885.5 456.1L885.9 455.7L886.3 454.9L886.7 454.9L887.1 454L887.5 454.3L887.9 454.2L888.3 454.6L888.7 455.4L889.1 455.5L889.5 456.4L889.9 456.1L890.3 456.3L890.7 456L891.1 455.4L891.5 455.3L891.9 454.1L892.3 453.8L892.7 452.7L893.1 452.4L893.5 452.4L893.9 452.8L894.3 454.5L894.7 455.9L895.1 458.3L895.5 460L895.9 461.6L896.3 463L896.7 463.4L897.1 464.3L897.5 464L897.9 464.3L898.3 464.1L898.7 463.6L899.1 463.6L899.5 462.8L899.9 463L900.3 462.6L900.7 462.7L901.1 462.7L901.5 462.3L901.9 462.6L902.3 462L902.7 462.5L903.1 462.7L903.5 463.4L903.9 464.6L904.3 465L904.7 465.9L905.1 465.4L905.5 465.2L905.9 464.4L906.3 463.5L906.7 463.3L907.1 462.4L907.5 462.7L907.9 462L908.3 461.5L908.7 460.6L909.1 458.9L909.5 457.9L909.9 456.1L910.3 455.2L910.7 454.1L911.1 453.5L911.5 453.6L911.9 453.5L912.3 454.7L912.7 455.3L913.1 456.8L913.5 457.8L913.9 458.2L914.3 458.6L914.7 457.5L915.1 456.7L915.5 455L915.9 453.8L916.3 453L916.7 451.9L917.1 451.8L917.5 450.8L917.9 450.6L918.3 449.9L918.7 449.4L919.1 449.5L919.5 449.1L919.9 450L920.3 450.1L920.7 450.7L921.1 450.9L921.5 450.7L921.9 450.9L922.3 450.1L922.7 450L923.1 449.1L923.5 448.4L923.9 447.7L924.3 446.5L924.7 446.4L925.1 446L925.5 447L925.9 448.3L926.3 450.1L926.7 452.5L927.1 454L927.5 456.1L927.9 456.8L928.3 457.8L928.7 458.3L929.1 458.2L929.5 458.7L929.9 458L930.3 458.2L930.7 457.6L931.1 457.4L931.5 457.4L931.9 457L932.3 457.5L932.7 457L933.1 457.3L933.5 457.1L933.9 456.9L934.3 457.5L934.7 457.5L935.1 458.8L935.5 459.4L935.9 460.4L936.3 460.9L936.7 460.6L937.1 460.5L937.5 459.3L937.9 459L938.3 458.3" fill="none" stroke="#0072B2" stroke-width="2.5" stroke-linejoin="round" stroke-linecap="butt"/>
<path d="M937.9 458.6L937.9 438.2L940 432.8L941.2 429.2L942.7 428.3L944.8 429.2L944.8 448.4L942.7 449L941.2 455L940 458.3Z" fill="#0072B2" stroke="#0072B2" stroke-width="0.8" stroke-linejoin="round"/>
<path d="M939.4 465.4h0M939.6 468.2h0M940.3 470.8h0M941.9 472.8h0M941 472h0M939.9 472.4h0" fill="none" stroke="#f00" stroke-width="5.56" stroke-linecap="round"/>
</g>
<path d="M152.5 542.4v5.1M278.5 542.4v5.1M404.5 542.4v5.1M530.5 542.4v5.1M657.5 542.4v5.1M783.5 542.4v5.1M909.5 542.4v5.1M79.5 503.5h-5.2M79.5 396.5h-5.2M79.5 290.5h-5.2M79.5 184.5h-5.2M79.5 77.5h-5.2" stroke="#000" stroke-width="1.11" fill="none"/>
<path d="M79.5 14.9V542.9M985.5 14.9V542.9M78.95 15.45H986.05M78.95 542.38H986.05" fill="none" stroke="#000" stroke-width="1.11"/>
<g font-family="'DejaVu Sans','Liberation Sans',sans-serif" font-size="13.89px" letter-spacing="-0.23" fill="#000">
<text x="151.4" y="562.1" text-anchor="middle">2001</text>
<text x="278.5" y="562.1" text-anchor="middle">2005</text>
<text x="404.5" y="562.1" text-anchor="middle">2009</text>
<text x="530.5" y="562.1" text-anchor="middle">2013</text>
<text x="656.4" y="562.1" text-anchor="middle">2017</text>
<text x="782.4" y="562.1" text-anchor="middle">2021</text>
<text x="908.4" y="562.1" text-anchor="middle">2025</text>
<text x="70.55" y="507.65" text-anchor="end" letter-spacing="-0.23">0</text>
<text x="67.8" y="401.75" text-anchor="end" letter-spacing="-0.55">500</text>
<text x="68.9" y="294.55" text-anchor="end" letter-spacing="-0.23">1000</text>
<text x="68.9" y="188.75" text-anchor="end" letter-spacing="-0.23">1500</text>
<text x="69.8" y="82.75" text-anchor="end" letter-spacing="-0.23">2000</text>
<text x="532.0" y="582.2" text-anchor="middle" letter-spacing="-0.9">ds</text>
<text transform="translate(25.1 278.7) rotate(-90)" text-anchor="middle">y</text>
</g>
</svg>
</body></html>
